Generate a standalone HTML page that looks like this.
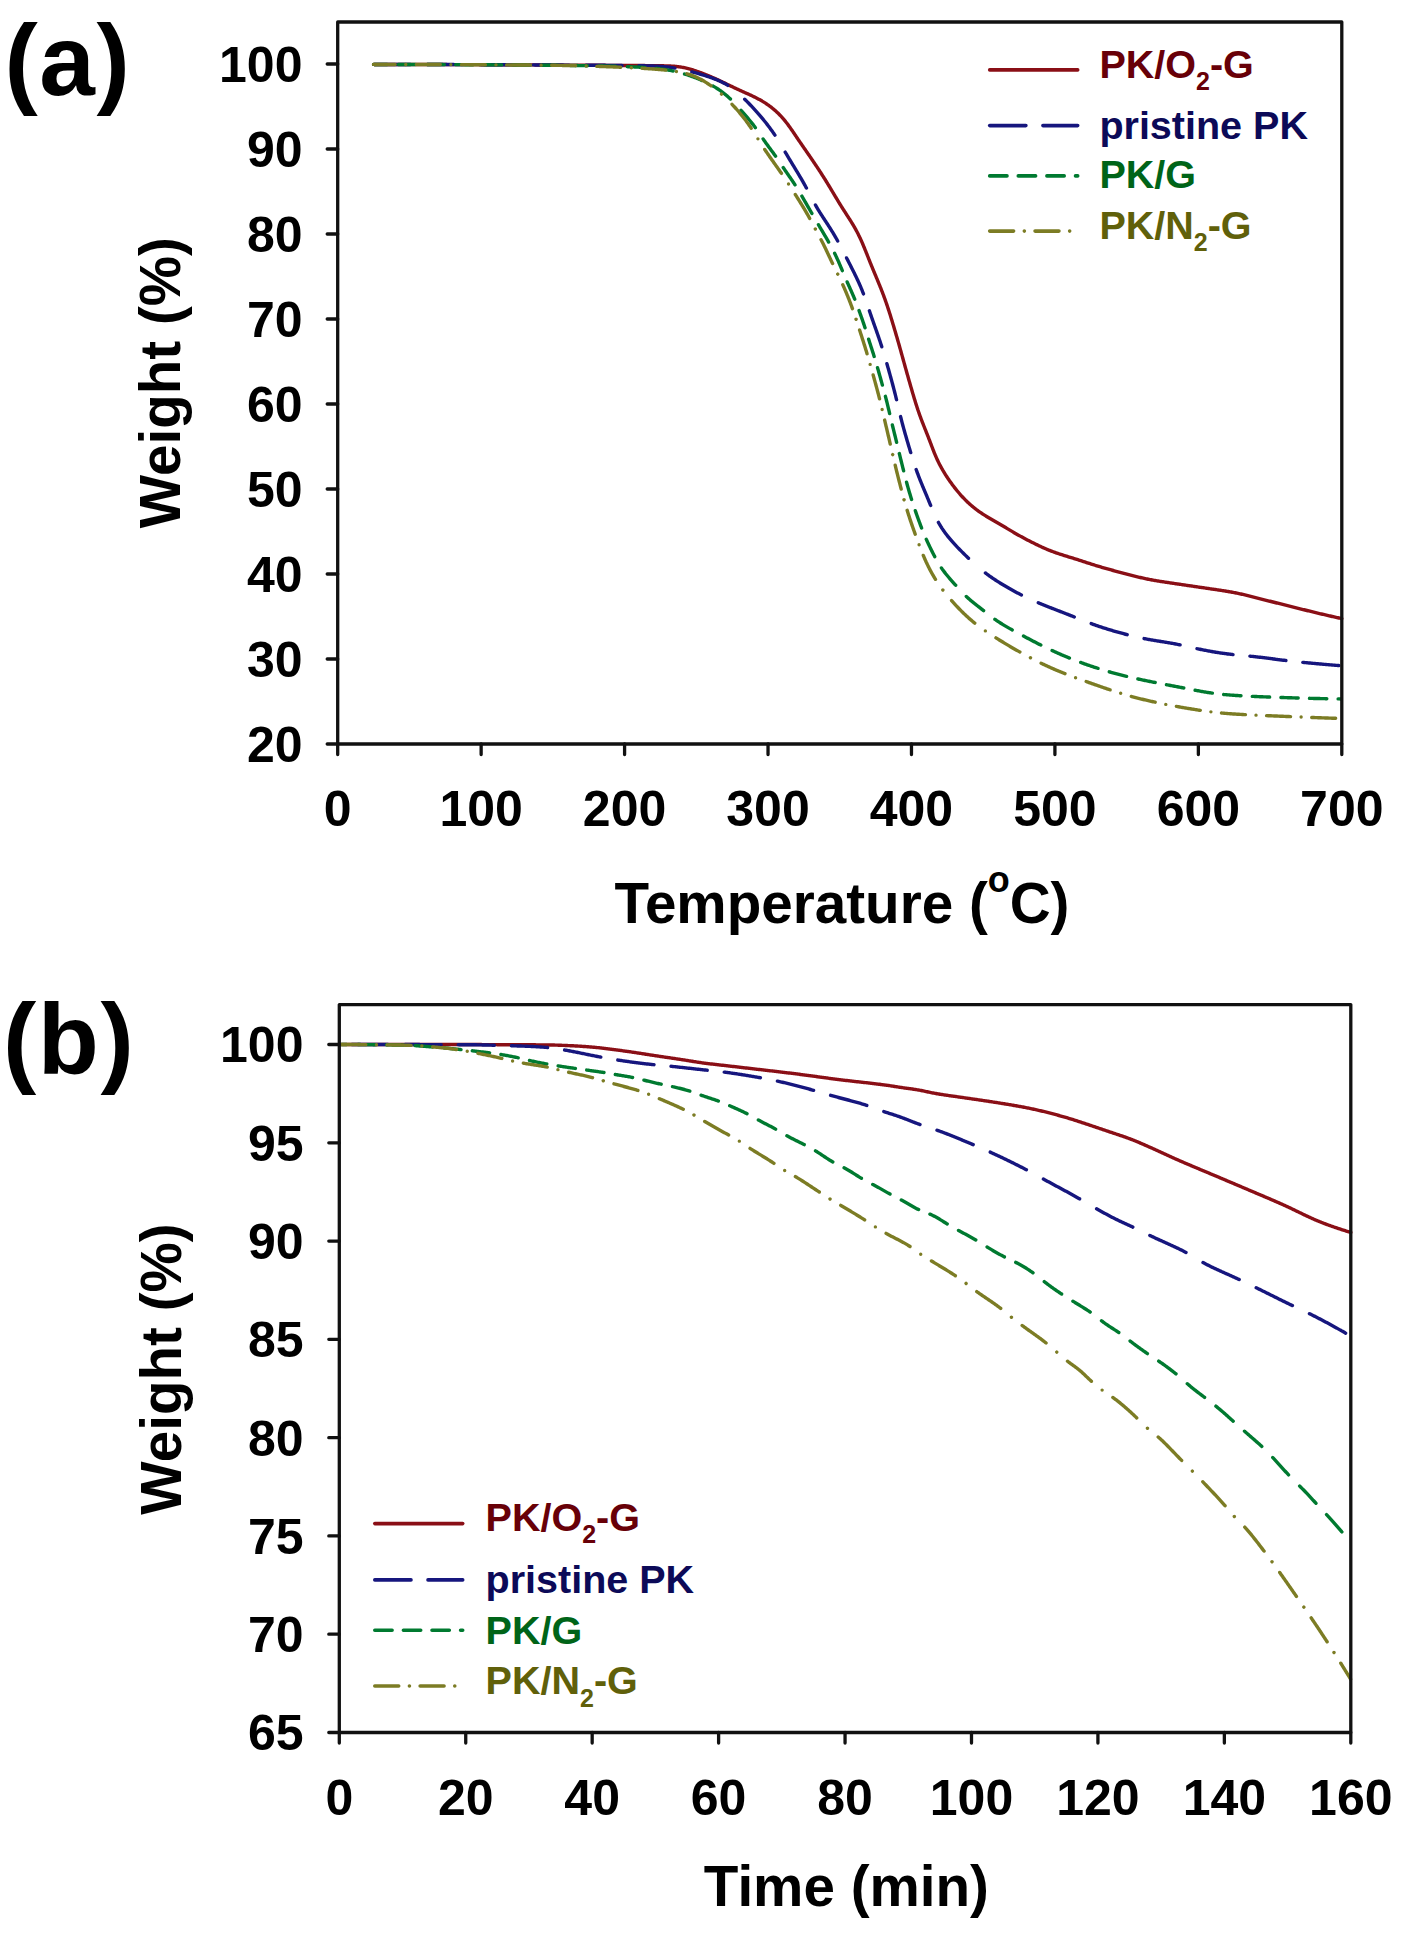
<!DOCTYPE html><html><head><meta charset="utf-8"><style>
html,body{margin:0;padding:0;background:#fff;width:1403px;height:1935px;overflow:hidden}
svg{display:block}
text{font-family:"Liberation Sans",sans-serif;font-weight:bold}
</style></head><body>
<svg width="1403" height="1935" viewBox="0 0 1403 1935">
<rect width="1403" height="1935" fill="#ffffff"/>
<path d="M373.56 64.42 L374.56 64.43 L375.56 64.43 L376.56 64.43 L377.56 64.43 L378.56 64.43 L379.56 64.43 L380.56 64.43 L381.56 64.43 L382.56 64.44 L383.56 64.44 L384.56 64.44 L385.56 64.44 L386.56 64.44 L387.56 64.44 L388.56 64.44 L389.56 64.45 L390.56 64.45 L391.56 64.45 L392.56 64.45 L393.56 64.45 L394.56 64.45 L395.56 64.46 L396.56 64.46 L397.56 64.46 L398.56 64.46 L399.56 64.46 L400.56 64.46 L401.56 64.47 L402.56 64.47 L403.56 64.47 L404.56 64.47 L405.56 64.47 L406.56 64.48 L407.56 64.48 L408.56 64.48 L409.56 64.48 L410.56 64.48 L411.56 64.49 L412.56 64.49 L413.56 64.49 L414.56 64.49 L415.56 64.49 L416.56 64.50 L417.56 64.50 L418.56 64.50 L419.56 64.50 L420.56 64.51 L421.56 64.51 L422.56 64.51 L423.56 64.51 L424.56 64.52 L425.56 64.52 L426.56 64.52 L427.56 64.52 L428.56 64.53 L429.56 64.53 L430.56 64.53 L431.56 64.53 L432.56 64.54 L433.56 64.54 L434.56 64.54 L435.56 64.54 L436.56 64.55 L437.56 64.55 L438.56 64.55 L439.56 64.55 L440.56 64.56 L441.56 64.56 L442.56 64.56 L443.56 64.57 L444.56 64.57 L445.56 64.57 L446.56 64.57 L447.56 64.58 L448.56 64.58 L449.56 64.58 L450.56 64.59 L451.56 64.59 L452.56 64.59 L453.56 64.59 L454.56 64.60 L455.56 64.60 L456.56 64.60 L457.56 64.61 L458.56 64.61 L459.56 64.61 L460.56 64.62 L461.56 64.62 L462.56 64.62 L463.56 64.62 L464.56 64.63 L465.56 64.63 L466.56 64.63 L467.56 64.64 L468.56 64.64 L469.56 64.64 L470.56 64.65 L471.56 64.65 L472.56 64.65 L473.56 64.66 L474.56 64.66 L475.56 64.66 L476.56 64.67 L477.56 64.67 L478.56 64.67 L479.56 64.68 L480.56 64.68 L481.56 64.68 L482.56 64.69 L483.56 64.69 L484.56 64.69 L485.56 64.70 L486.56 64.70 L487.56 64.70 L488.56 64.71 L489.56 64.71 L490.56 64.72 L491.56 64.72 L492.56 64.72 L493.56 64.73 L494.56 64.73 L495.56 64.74 L496.56 64.74 L497.56 64.74 L498.56 64.75 L499.56 64.75 L500.56 64.76 L501.56 64.76 L502.56 64.77 L503.56 64.77 L504.56 64.77 L505.56 64.78 L506.56 64.78 L507.56 64.79 L508.56 64.79 L509.56 64.80 L510.56 64.80 L511.56 64.81 L512.56 64.81 L513.56 64.82 L514.56 64.82 L515.56 64.83 L516.56 64.83 L517.56 64.84 L518.56 64.84 L519.56 64.85 L520.56 64.85 L521.56 64.86 L522.56 64.86 L523.56 64.87 L524.56 64.87 L525.56 64.88 L526.56 64.88 L527.56 64.89 L528.56 64.89 L529.56 64.90 L530.56 64.90 L531.56 64.91 L532.56 64.91 L533.56 64.92 L534.56 64.92 L535.56 64.93 L536.56 64.93 L537.56 64.94 L538.56 64.94 L539.56 64.95 L540.56 64.95 L541.56 64.96 L542.56 64.97 L543.56 64.97 L544.56 64.98 L545.56 64.98 L546.56 64.99 L547.56 64.99 L548.56 65.00 L549.56 65.00 L550.56 65.01 L551.56 65.01 L552.56 65.02 L553.56 65.02 L554.56 65.03 L555.56 65.03 L556.56 65.04 L557.56 65.05 L558.56 65.05 L559.56 65.06 L560.56 65.06 L561.56 65.07 L562.56 65.07 L563.56 65.08 L564.56 65.08 L565.56 65.09 L566.56 65.09 L567.56 65.10 L568.56 65.11 L569.56 65.11 L570.56 65.12 L571.56 65.12 L572.56 65.13 L573.56 65.13 L574.56 65.14 L575.56 65.15 L576.56 65.15 L577.56 65.16 L578.56 65.16 L579.56 65.17 L580.56 65.17 L581.56 65.18 L582.56 65.19 L583.56 65.19 L584.56 65.20 L585.56 65.20 L586.56 65.21 L587.56 65.21 L588.56 65.22 L589.56 65.23 L590.56 65.23 L591.56 65.24 L592.56 65.24 L593.56 65.25 L594.56 65.26 L595.56 65.26 L596.56 65.27 L597.56 65.27 L598.56 65.28 L599.56 65.29 L600.56 65.29 L601.56 65.30 L602.56 65.31 L603.56 65.31 L604.56 65.32 L605.56 65.32 L606.56 65.33 L607.56 65.34 L608.56 65.34 L609.56 65.35 L610.56 65.36 L611.56 65.36 L612.56 65.37 L613.56 65.37 L614.56 65.38 L615.56 65.39 L616.56 65.39 L617.56 65.40 L618.56 65.41 L619.56 65.41 L620.56 65.42 L621.56 65.42 L622.56 65.43 L623.56 65.44 L624.56 65.44 L625.56 65.45 L626.56 65.46 L627.56 65.46 L628.56 65.47 L629.56 65.47 L630.56 65.48 L631.56 65.49 L632.56 65.49 L633.56 65.50 L634.56 65.50 L635.56 65.51 L636.56 65.52 L637.56 65.52 L638.56 65.53 L639.56 65.54 L640.56 65.54 L641.56 65.55 L642.56 65.56 L643.56 65.56 L644.56 65.57 L645.56 65.58 L646.56 65.59 L647.56 65.59 L648.56 65.60 L649.56 65.61 L650.56 65.62 L651.56 65.63 L652.56 65.64 L653.56 65.65 L654.56 65.66 L655.56 65.68 L656.56 65.69 L657.56 65.70 L658.56 65.72 L659.56 65.73 L660.56 65.75 L661.56 65.77 L662.55 65.79 L663.55 65.82 L664.55 65.84 L665.55 65.87 L666.55 65.90 L667.55 65.94 L668.55 65.97 L669.54 66.02 L670.54 66.07 L671.54 66.12 L672.53 66.18 L673.52 66.25 L674.52 66.32 L675.51 66.41 L676.50 66.50 L677.48 66.61 L678.47 66.72 L679.45 66.85 L680.43 66.99 L681.41 67.15 L682.39 67.31 L683.36 67.49 L684.34 67.68 L685.30 67.89 L686.27 68.11 L687.23 68.34 L688.19 68.59 L689.15 68.84 L690.11 69.11 L691.06 69.39 L692.01 69.68 L692.96 69.98 L693.91 70.28 L694.85 70.60 L695.80 70.92 L696.74 71.25 L697.68 71.58 L698.62 71.92 L699.55 72.26 L700.49 72.61 L701.43 72.96 L702.36 73.32 L703.29 73.68 L704.22 74.04 L705.15 74.41 L706.08 74.78 L707.01 75.15 L707.93 75.53 L708.86 75.91 L709.78 76.29 L710.70 76.68 L711.62 77.07 L712.54 77.46 L713.46 77.86 L714.37 78.26 L715.28 78.67 L716.20 79.08 L717.11 79.49 L718.01 79.90 L718.92 80.32 L719.83 80.74 L720.73 81.17 L721.64 81.60 L722.54 82.03 L723.44 82.46 L724.34 82.89 L725.24 83.33 L726.14 83.77 L727.04 84.21 L727.93 84.65 L728.83 85.08 L729.73 85.52 L730.63 85.96 L731.53 86.40 L732.43 86.83 L733.33 87.26 L734.23 87.70 L735.13 88.12 L736.04 88.55 L736.94 88.97 L737.85 89.39 L738.76 89.81 L739.66 90.23 L740.57 90.64 L741.48 91.05 L742.40 91.46 L743.31 91.87 L744.22 92.28 L745.13 92.69 L746.05 93.09 L746.96 93.50 L747.87 93.91 L748.78 94.32 L749.69 94.73 L750.60 95.15 L751.50 95.57 L752.40 95.99 L753.31 96.42 L754.20 96.86 L755.10 97.30 L755.99 97.75 L756.88 98.20 L757.76 98.67 L758.64 99.14 L759.51 99.61 L760.38 100.10 L761.25 100.59 L762.11 101.09 L762.96 101.61 L763.81 102.13 L764.65 102.65 L765.49 103.19 L766.32 103.74 L767.14 104.30 L767.96 104.86 L768.77 105.44 L769.58 106.02 L770.37 106.62 L771.16 107.22 L771.94 107.83 L772.72 108.46 L773.49 109.09 L774.24 109.73 L774.99 110.38 L775.74 111.04 L776.47 111.71 L777.20 112.39 L777.91 113.08 L778.62 113.78 L779.32 114.48 L780.02 115.20 L780.70 115.92 L781.38 116.65 L782.04 117.38 L782.70 118.13 L783.36 118.88 L784.00 119.64 L784.63 120.41 L785.26 121.18 L785.88 121.96 L786.50 122.74 L787.11 123.53 L787.71 124.33 L788.30 125.13 L788.89 125.93 L789.47 126.74 L790.05 127.55 L790.63 128.37 L791.20 129.19 L791.77 130.01 L792.33 130.83 L792.90 131.66 L793.46 132.48 L794.02 133.31 L794.58 134.14 L795.14 134.97 L795.70 135.80 L796.26 136.62 L796.82 137.45 L797.38 138.28 L797.94 139.11 L798.50 139.93 L799.07 140.76 L799.63 141.59 L800.19 142.41 L800.76 143.23 L801.33 144.06 L801.89 144.88 L802.46 145.71 L803.03 146.53 L803.60 147.35 L804.17 148.17 L804.74 149.00 L805.31 149.82 L805.87 150.64 L806.44 151.46 L807.01 152.28 L807.58 153.11 L808.15 153.93 L808.71 154.76 L809.28 155.58 L809.85 156.40 L810.41 157.23 L810.98 158.05 L811.54 158.88 L812.10 159.71 L812.66 160.53 L813.22 161.36 L813.78 162.19 L814.34 163.02 L814.90 163.85 L815.46 164.68 L816.01 165.51 L816.57 166.34 L817.12 167.17 L817.68 168.01 L818.23 168.84 L818.78 169.68 L819.32 170.51 L819.87 171.35 L820.42 172.19 L820.96 173.03 L821.50 173.87 L822.04 174.71 L822.58 175.55 L823.12 176.40 L823.65 177.24 L824.18 178.09 L824.71 178.94 L825.24 179.78 L825.77 180.63 L826.30 181.48 L826.82 182.34 L827.34 183.19 L827.86 184.04 L828.38 184.90 L828.90 185.75 L829.42 186.61 L829.93 187.46 L830.45 188.32 L830.96 189.18 L831.48 190.04 L831.99 190.89 L832.50 191.75 L833.01 192.61 L833.52 193.47 L834.04 194.33 L834.55 195.19 L835.06 196.05 L835.57 196.91 L836.09 197.76 L836.60 198.62 L837.12 199.48 L837.64 200.33 L838.16 201.19 L838.68 202.04 L839.20 202.89 L839.72 203.74 L840.25 204.59 L840.78 205.44 L841.31 206.29 L841.84 207.14 L842.37 207.98 L842.91 208.83 L843.44 209.67 L843.98 210.51 L844.52 211.36 L845.06 212.20 L845.60 213.04 L846.14 213.88 L846.69 214.72 L847.23 215.56 L847.77 216.40 L848.31 217.24 L848.85 218.08 L849.39 218.92 L849.92 219.76 L850.46 220.61 L850.99 221.46 L851.51 222.30 L852.04 223.16 L852.56 224.01 L853.07 224.86 L853.58 225.72 L854.09 226.58 L854.58 227.45 L855.08 228.32 L855.57 229.19 L856.05 230.06 L856.52 230.94 L856.99 231.82 L857.45 232.70 L857.91 233.59 L858.36 234.48 L858.80 235.38 L859.24 236.27 L859.67 237.17 L860.10 238.08 L860.52 238.98 L860.93 239.89 L861.34 240.80 L861.75 241.71 L862.14 242.63 L862.54 243.55 L862.93 244.47 L863.32 245.39 L863.70 246.31 L864.08 247.23 L864.46 248.16 L864.84 249.08 L865.21 250.01 L865.59 250.94 L865.96 251.87 L866.33 252.80 L866.70 253.72 L867.07 254.65 L867.44 255.58 L867.80 256.51 L868.17 257.44 L868.54 258.37 L868.91 259.30 L869.28 260.23 L869.65 261.16 L870.03 262.08 L870.40 263.01 L870.77 263.94 L871.15 264.87 L871.53 265.79 L871.91 266.72 L872.28 267.64 L872.66 268.57 L873.05 269.49 L873.43 270.42 L873.81 271.34 L874.20 272.26 L874.58 273.19 L874.96 274.11 L875.35 275.03 L875.74 275.95 L876.12 276.88 L876.51 277.80 L876.89 278.72 L877.27 279.65 L877.66 280.57 L878.04 281.49 L878.42 282.42 L878.80 283.34 L879.18 284.27 L879.56 285.19 L879.93 286.12 L880.30 287.05 L880.68 287.98 L881.04 288.91 L881.41 289.84 L881.78 290.77 L882.14 291.70 L882.50 292.63 L882.85 293.57 L883.21 294.50 L883.56 295.44 L883.90 296.37 L884.25 297.31 L884.59 298.25 L884.93 299.19 L885.27 300.13 L885.60 301.08 L885.93 302.02 L886.26 302.96 L886.59 303.91 L886.91 304.85 L887.23 305.80 L887.55 306.75 L887.86 307.70 L888.18 308.65 L888.49 309.60 L888.79 310.55 L889.10 311.50 L889.41 312.45 L889.71 313.41 L890.01 314.36 L890.31 315.31 L890.61 316.27 L890.90 317.22 L891.20 318.18 L891.49 319.13 L891.78 320.09 L892.07 321.05 L892.37 322.00 L892.65 322.96 L892.94 323.92 L893.23 324.88 L893.52 325.83 L893.80 326.79 L894.09 327.75 L894.37 328.71 L894.66 329.67 L894.94 330.63 L895.22 331.59 L895.50 332.55 L895.79 333.51 L896.07 334.46 L896.35 335.42 L896.63 336.38 L896.91 337.34 L897.19 338.31 L897.46 339.27 L897.74 340.23 L898.02 341.19 L898.29 342.15 L898.57 343.11 L898.84 344.07 L899.12 345.03 L899.39 346.00 L899.66 346.96 L899.94 347.92 L900.21 348.88 L900.48 349.84 L900.75 350.81 L901.02 351.77 L901.28 352.73 L901.55 353.70 L901.82 354.66 L902.09 355.62 L902.36 356.59 L902.62 357.55 L902.89 358.52 L903.16 359.48 L903.42 360.44 L903.69 361.41 L903.96 362.37 L904.22 363.33 L904.49 364.30 L904.76 365.26 L905.03 366.22 L905.29 367.19 L905.56 368.15 L905.83 369.11 L906.10 370.08 L906.37 371.04 L906.64 372.00 L906.91 372.97 L907.18 373.93 L907.45 374.89 L907.73 375.85 L908.00 376.81 L908.27 377.78 L908.55 378.74 L908.82 379.70 L909.10 380.66 L909.37 381.62 L909.65 382.58 L909.92 383.55 L910.20 384.51 L910.48 385.47 L910.75 386.43 L911.03 387.39 L911.31 388.35 L911.59 389.31 L911.87 390.27 L912.15 391.23 L912.43 392.19 L912.71 393.15 L912.99 394.11 L913.28 395.07 L913.56 396.03 L913.85 396.98 L914.14 397.94 L914.42 398.90 L914.72 399.85 L915.01 400.81 L915.30 401.77 L915.60 402.72 L915.90 403.67 L916.20 404.63 L916.50 405.58 L916.81 406.53 L917.12 407.48 L917.43 408.43 L917.75 409.38 L918.06 410.33 L918.39 411.27 L918.71 412.22 L919.04 413.16 L919.37 414.11 L919.71 415.05 L920.04 415.99 L920.39 416.93 L920.73 417.87 L921.08 418.80 L921.43 419.74 L921.79 420.67 L922.14 421.61 L922.50 422.54 L922.87 423.47 L923.23 424.40 L923.60 425.33 L923.96 426.26 L924.33 427.19 L924.70 428.12 L925.07 429.05 L925.44 429.98 L925.82 430.90 L926.19 431.83 L926.56 432.76 L926.92 433.69 L927.29 434.62 L927.66 435.55 L928.02 436.48 L928.39 437.41 L928.75 438.34 L929.11 439.28 L929.47 440.21 L929.83 441.14 L930.18 442.08 L930.54 443.01 L930.89 443.95 L931.24 444.88 L931.60 445.82 L931.95 446.75 L932.31 447.68 L932.67 448.62 L933.02 449.55 L933.39 450.48 L933.75 451.41 L934.12 452.34 L934.49 453.26 L934.87 454.19 L935.26 455.11 L935.64 456.03 L936.04 456.94 L936.44 457.86 L936.85 458.77 L937.27 459.67 L937.69 460.58 L938.12 461.48 L938.55 462.37 L939.00 463.26 L939.45 464.15 L939.91 465.04 L940.38 465.92 L940.85 466.80 L941.33 467.67 L941.82 468.54 L942.31 469.41 L942.81 470.27 L943.32 471.13 L943.83 471.99 L944.35 472.84 L944.87 473.69 L945.40 474.54 L945.94 475.38 L946.48 476.22 L947.03 477.05 L947.58 477.88 L948.14 478.71 L948.70 479.54 L949.27 480.36 L949.84 481.18 L950.42 481.99 L951.00 482.80 L951.59 483.61 L952.18 484.42 L952.77 485.22 L953.38 486.01 L953.98 486.81 L954.59 487.60 L955.21 488.38 L955.83 489.16 L956.45 489.94 L957.08 490.72 L957.72 491.49 L958.36 492.25 L959.01 493.01 L959.66 493.77 L960.31 494.52 L960.98 495.27 L961.64 496.01 L962.32 496.74 L963.00 497.47 L963.68 498.20 L964.37 498.92 L965.07 499.63 L965.77 500.34 L966.48 501.04 L967.19 501.73 L967.91 502.42 L968.64 503.10 L969.38 503.78 L970.12 504.44 L970.86 505.10 L971.62 505.75 L972.38 506.40 L973.14 507.03 L973.92 507.66 L974.69 508.28 L975.48 508.89 L976.27 509.50 L977.07 510.09 L977.87 510.68 L978.68 511.26 L979.50 511.83 L980.32 512.40 L981.14 512.96 L981.97 513.51 L982.81 514.06 L983.65 514.60 L984.49 515.13 L985.34 515.66 L986.19 516.18 L987.04 516.70 L987.89 517.22 L988.75 517.73 L989.61 518.24 L990.47 518.74 L991.34 519.25 L992.20 519.75 L993.06 520.25 L993.93 520.75 L994.80 521.25 L995.66 521.75 L996.53 522.25 L997.39 522.75 L998.26 523.25 L999.12 523.75 L999.99 524.26 L1000.85 524.76 L1001.71 525.27 L1002.57 525.77 L1003.43 526.28 L1004.29 526.79 L1005.15 527.30 L1006.01 527.81 L1006.87 528.33 L1007.73 528.84 L1008.59 529.35 L1009.44 529.87 L1010.30 530.38 L1011.16 530.89 L1012.02 531.40 L1012.88 531.91 L1013.74 532.41 L1014.61 532.92 L1015.47 533.42 L1016.34 533.92 L1017.20 534.42 L1018.07 534.91 L1018.94 535.40 L1019.81 535.89 L1020.69 536.38 L1021.56 536.86 L1022.44 537.34 L1023.32 537.81 L1024.20 538.28 L1025.08 538.75 L1025.97 539.21 L1026.85 539.68 L1027.74 540.14 L1028.63 540.59 L1029.52 541.05 L1030.41 541.50 L1031.30 541.95 L1032.20 542.40 L1033.09 542.85 L1033.99 543.29 L1034.88 543.73 L1035.78 544.17 L1036.68 544.61 L1037.58 545.05 L1038.48 545.48 L1039.38 545.91 L1040.28 546.33 L1041.19 546.75 L1042.10 547.17 L1043.01 547.58 L1043.92 547.99 L1044.83 548.40 L1045.75 548.79 L1046.67 549.19 L1047.59 549.57 L1048.51 549.95 L1049.43 550.33 L1050.36 550.70 L1051.29 551.06 L1052.22 551.42 L1053.16 551.77 L1054.10 552.11 L1055.03 552.45 L1055.98 552.78 L1056.92 553.11 L1057.86 553.44 L1058.81 553.76 L1059.76 554.07 L1060.71 554.38 L1061.66 554.69 L1062.61 554.99 L1063.56 555.29 L1064.52 555.59 L1065.47 555.89 L1066.43 556.18 L1067.38 556.48 L1068.34 556.77 L1069.29 557.06 L1070.25 557.36 L1071.20 557.65 L1072.16 557.94 L1073.11 558.24 L1074.07 558.54 L1075.02 558.83 L1075.98 559.13 L1076.93 559.43 L1077.88 559.74 L1078.84 560.04 L1079.79 560.34 L1080.74 560.65 L1081.69 560.96 L1082.64 561.27 L1083.59 561.58 L1084.54 561.89 L1085.49 562.20 L1086.44 562.51 L1087.39 562.82 L1088.35 563.13 L1089.30 563.43 L1090.25 563.74 L1091.20 564.05 L1092.15 564.35 L1093.11 564.65 L1094.06 564.95 L1095.01 565.25 L1095.97 565.54 L1096.92 565.84 L1097.88 566.13 L1098.84 566.42 L1099.80 566.70 L1100.75 566.99 L1101.71 567.27 L1102.67 567.55 L1103.63 567.82 L1104.60 568.10 L1105.56 568.37 L1106.52 568.64 L1107.48 568.91 L1108.45 569.18 L1109.41 569.45 L1110.37 569.72 L1111.34 569.98 L1112.30 570.25 L1113.27 570.51 L1114.23 570.77 L1115.20 571.03 L1116.16 571.29 L1117.13 571.55 L1118.09 571.81 L1119.06 572.07 L1120.03 572.33 L1120.99 572.58 L1121.96 572.84 L1122.92 573.10 L1123.89 573.35 L1124.86 573.61 L1125.83 573.86 L1126.79 574.12 L1127.76 574.37 L1128.73 574.62 L1129.70 574.87 L1130.66 575.12 L1131.63 575.37 L1132.60 575.62 L1133.57 575.86 L1134.54 576.10 L1135.51 576.35 L1136.48 576.58 L1137.45 576.82 L1138.42 577.05 L1139.40 577.28 L1140.37 577.51 L1141.34 577.74 L1142.32 577.96 L1143.29 578.17 L1144.27 578.39 L1145.25 578.60 L1146.23 578.80 L1147.20 579.01 L1148.18 579.21 L1149.16 579.40 L1150.14 579.59 L1151.13 579.78 L1152.11 579.96 L1153.09 580.15 L1154.08 580.32 L1155.06 580.50 L1156.04 580.67 L1157.03 580.84 L1158.02 581.00 L1159.00 581.16 L1159.99 581.32 L1160.98 581.48 L1161.96 581.64 L1162.95 581.79 L1163.94 581.94 L1164.93 582.09 L1165.92 582.24 L1166.91 582.39 L1167.89 582.54 L1168.88 582.69 L1169.87 582.83 L1170.86 582.98 L1171.85 583.12 L1172.84 583.27 L1173.83 583.42 L1174.82 583.56 L1175.81 583.71 L1176.80 583.85 L1177.79 584.00 L1178.78 584.14 L1179.77 584.29 L1180.76 584.43 L1181.75 584.58 L1182.73 584.72 L1183.72 584.87 L1184.71 585.02 L1185.70 585.16 L1186.69 585.31 L1187.68 585.46 L1188.67 585.60 L1189.66 585.75 L1190.65 585.90 L1191.64 586.04 L1192.63 586.19 L1193.62 586.34 L1194.60 586.48 L1195.59 586.63 L1196.58 586.78 L1197.57 586.92 L1198.56 587.07 L1199.55 587.21 L1200.54 587.36 L1201.53 587.51 L1202.52 587.65 L1203.51 587.80 L1204.50 587.94 L1205.49 588.09 L1206.48 588.23 L1207.47 588.38 L1208.46 588.52 L1209.44 588.67 L1210.43 588.81 L1211.42 588.96 L1212.41 589.10 L1213.40 589.24 L1214.39 589.39 L1215.38 589.53 L1216.37 589.68 L1217.36 589.83 L1218.35 589.97 L1219.34 590.12 L1220.33 590.27 L1221.31 590.42 L1222.30 590.58 L1223.29 590.73 L1224.28 590.89 L1225.27 591.04 L1226.25 591.20 L1227.24 591.37 L1228.22 591.53 L1229.21 591.70 L1230.19 591.88 L1231.18 592.05 L1232.16 592.23 L1233.14 592.41 L1234.12 592.60 L1235.11 592.79 L1236.09 592.98 L1237.07 593.18 L1238.04 593.38 L1239.02 593.59 L1240.00 593.80 L1240.98 594.01 L1241.95 594.23 L1242.93 594.45 L1243.90 594.68 L1244.87 594.90 L1245.84 595.14 L1246.82 595.37 L1247.79 595.61 L1248.76 595.84 L1249.73 596.09 L1250.70 596.33 L1251.67 596.57 L1252.64 596.82 L1253.61 597.06 L1254.58 597.31 L1255.54 597.56 L1256.51 597.81 L1257.48 598.06 L1258.45 598.31 L1259.42 598.56 L1260.39 598.80 L1261.35 599.05 L1262.32 599.30 L1263.29 599.55 L1264.26 599.80 L1265.23 600.04 L1266.20 600.29 L1267.17 600.54 L1268.14 600.78 L1269.11 601.03 L1270.08 601.27 L1271.05 601.52 L1272.02 601.76 L1272.99 602.01 L1273.96 602.25 L1274.93 602.49 L1275.89 602.74 L1276.86 602.98 L1277.83 603.22 L1278.80 603.47 L1279.77 603.71 L1280.74 603.95 L1281.71 604.20 L1282.68 604.44 L1283.65 604.68 L1284.63 604.93 L1285.60 605.17 L1286.57 605.41 L1287.54 605.65 L1288.51 605.90 L1289.48 606.14 L1290.45 606.38 L1291.42 606.62 L1292.39 606.87 L1293.36 607.11 L1294.33 607.35 L1295.30 607.59 L1296.27 607.84 L1297.24 608.08 L1298.21 608.32 L1299.18 608.56 L1300.15 608.80 L1301.12 609.05 L1302.09 609.29 L1303.06 609.53 L1304.03 609.77 L1305.00 610.01 L1305.97 610.25 L1306.94 610.49 L1307.91 610.73 L1308.88 610.97 L1309.85 611.21 L1310.83 611.45 L1311.80 611.68 L1312.77 611.92 L1313.74 612.16 L1314.71 612.39 L1315.68 612.62 L1316.66 612.86 L1317.63 613.09 L1318.60 613.32 L1319.57 613.55 L1320.55 613.78 L1321.52 614.01 L1322.49 614.24 L1323.46 614.47 L1324.43 614.70 L1325.40 614.92 L1326.38 615.15 L1327.35 615.37 L1328.32 615.59 L1329.28 615.81 L1330.25 616.03 L1331.22 616.25 L1332.19 616.47 L1333.15 616.69 L1334.12 616.91 L1335.08 617.13 L1336.04 617.34 L1337.00 617.56 L1337.96 617.77 L1338.92 617.98 L1339.88 618.20 L1340.84 618.41 L1341.80 618.62" fill="none" stroke="#8a0f16" stroke-width="3.4" stroke-linecap="round" stroke-linejoin="round"/>
<path d="M374.39 64.43 L374.56 64.43 L375.56 64.43 L376.56 64.43 L377.56 64.43 L378.56 64.43 L379.56 64.43 L380.56 64.43 L381.56 64.43 L382.56 64.43 L383.56 64.43 L384.56 64.43 L385.56 64.43 L386.56 64.43 L387.56 64.43 L388.56 64.43 L389.56 64.43 L390.56 64.43 L391.56 64.44 L392.56 64.44 L393.56 64.44 L394.56 64.44 L395.56 64.44 L396.56 64.44 L397.56 64.44 L398.56 64.44 L399.56 64.44 L400.56 64.45 L401.56 64.45 L402.56 64.45 L403.56 64.45 L404.56 64.45 L405.56 64.45 L406.56 64.45 L407.56 64.46 L408.56 64.46 L409.56 64.46 L410.39 64.46 M427.29 64.50 L427.56 64.50 L428.56 64.50 L429.56 64.50 L430.56 64.50 L431.56 64.51 L432.56 64.51 L433.56 64.51 L434.56 64.51 L435.56 64.52 L436.56 64.52 L437.56 64.52 L438.56 64.53 L439.56 64.53 L440.56 64.53 L441.56 64.53 L442.56 64.54 L443.56 64.54 L444.56 64.54 L445.56 64.55 L446.56 64.55 L447.56 64.55 L448.56 64.56 L449.56 64.56 L450.56 64.56 L451.56 64.57 L452.56 64.57 L453.56 64.57 L454.56 64.58 L455.56 64.58 L456.56 64.58 L457.56 64.59 L458.56 64.59 L459.56 64.59 L460.56 64.60 L461.56 64.60 L462.56 64.60 L463.29 64.61 M480.19 64.67 L480.56 64.67 L481.56 64.68 L482.56 64.68 L483.56 64.69 L484.56 64.69 L485.56 64.69 L486.56 64.70 L487.56 64.70 L488.56 64.71 L489.56 64.71 L490.56 64.72 L491.56 64.72 L492.56 64.73 L493.56 64.73 L494.56 64.73 L495.56 64.74 L496.56 64.74 L497.56 64.75 L498.56 64.75 L499.56 64.76 L500.56 64.76 L501.56 64.77 L502.56 64.77 L503.56 64.77 L504.56 64.78 L505.56 64.78 L506.56 64.79 L507.56 64.79 L508.56 64.80 L509.56 64.80 L510.56 64.81 L511.56 64.81 L512.56 64.82 L513.56 64.82 L514.56 64.83 L515.56 64.83 L516.19 64.83 M533.09 64.92 L533.56 64.92 L534.56 64.93 L535.56 64.93 L536.56 64.94 L537.56 64.94 L538.56 64.95 L539.56 64.95 L540.56 64.96 L541.56 64.96 L542.56 64.97 L543.56 64.97 L544.56 64.98 L545.56 64.98 L546.56 64.99 L547.56 64.99 L548.56 65.00 L549.56 65.00 L550.56 65.01 L551.56 65.01 L552.56 65.02 L553.56 65.02 L554.56 65.03 L555.56 65.03 L556.56 65.04 L557.56 65.04 L558.56 65.05 L559.56 65.05 L560.56 65.06 L561.56 65.06 L562.56 65.07 L563.56 65.07 L564.56 65.08 L565.56 65.08 L566.56 65.09 L567.56 65.09 L568.56 65.10 L569.09 65.10 M585.99 65.19 L586.56 65.20 L587.56 65.20 L588.56 65.21 L589.56 65.21 L590.56 65.22 L591.56 65.23 L592.56 65.23 L593.56 65.24 L594.56 65.25 L595.56 65.25 L596.56 65.26 L597.56 65.27 L598.56 65.27 L599.56 65.28 L600.56 65.29 L601.56 65.30 L602.56 65.30 L603.56 65.31 L604.56 65.32 L605.56 65.33 L606.56 65.34 L607.56 65.35 L608.56 65.35 L609.56 65.36 L610.56 65.37 L611.56 65.38 L612.56 65.39 L613.56 65.40 L614.56 65.41 L615.56 65.42 L616.56 65.43 L617.56 65.44 L618.56 65.45 L619.56 65.46 L620.56 65.47 L621.56 65.49 L621.99 65.49 M638.89 65.72 L639.56 65.73 L640.56 65.75 L641.56 65.77 L642.56 65.78 L643.56 65.80 L644.55 65.82 L645.55 65.84 L646.55 65.86 L647.55 65.89 L648.55 65.91 L649.55 65.93 L650.55 65.96 L651.55 65.99 L652.55 66.02 L653.55 66.06 L654.55 66.09 L655.55 66.13 L656.54 66.18 L657.54 66.23 L658.54 66.28 L659.53 66.34 L660.53 66.41 L661.53 66.48 L662.52 66.56 L663.51 66.64 L664.51 66.73 L665.50 66.83 L666.49 66.94 L667.48 67.05 L668.47 67.17 L669.46 67.30 L670.45 67.44 L671.44 67.58 L672.42 67.74 L673.41 67.90 L674.39 68.06 L674.89 68.15 M691.79 71.89 L691.95 71.93 L692.92 72.18 L693.88 72.43 L694.85 72.68 L695.82 72.94 L696.78 73.20 L697.75 73.46 L698.71 73.73 L699.67 74.00 L700.63 74.27 L701.59 74.55 L702.55 74.84 L703.50 75.13 L704.46 75.42 L705.41 75.72 L706.36 76.02 L707.31 76.33 L708.26 76.65 L709.20 76.97 L710.15 77.30 L711.09 77.63 L712.02 77.97 L712.96 78.32 L713.89 78.68 L714.82 79.04 L715.74 79.41 L716.67 79.79 L717.58 80.18 L718.50 80.57 L719.41 80.98 L720.31 81.39 L721.21 81.81 L722.11 82.25 L722.99 82.69 L723.88 83.15 L724.75 83.61 L725.62 84.09 L726.48 84.58 L727.34 85.08 L727.79 85.35 M744.69 99.19 L745.00 99.50 L745.71 100.20 L746.41 100.91 L747.11 101.62 L747.81 102.34 L748.51 103.06 L749.20 103.77 L749.89 104.50 L750.58 105.22 L751.27 105.95 L751.95 106.67 L752.64 107.40 L753.32 108.14 L753.99 108.87 L754.67 109.61 L755.34 110.35 L756.01 111.09 L756.68 111.84 L757.34 112.58 L758.00 113.33 L758.66 114.08 L759.31 114.84 L759.97 115.60 L760.61 116.36 L761.26 117.12 L761.90 117.89 L762.54 118.65 L763.18 119.42 L763.81 120.20 L764.44 120.97 L765.07 121.75 L765.69 122.53 L766.31 123.32 L766.92 124.11 L767.53 124.90 L768.14 125.69 L768.74 126.48 L769.34 127.28 L769.94 128.09 L770.53 128.89 L771.12 129.70 L771.70 130.51 L772.28 131.32 L772.85 132.14 L773.42 132.96 L773.99 133.79 L774.55 134.61 L774.93 135.19 M785.21 152.09 L785.47 152.52 L785.98 153.38 L786.49 154.24 L786.99 155.10 L787.51 155.96 L788.02 156.82 L788.53 157.68 L789.04 158.54 L789.56 159.40 L790.08 160.25 L790.59 161.11 L791.11 161.96 L791.63 162.82 L792.15 163.67 L792.67 164.53 L793.19 165.38 L793.71 166.23 L794.23 167.09 L794.75 167.94 L795.27 168.80 L795.79 169.65 L796.31 170.51 L796.83 171.36 L797.34 172.22 L797.86 173.07 L798.37 173.93 L798.89 174.79 L799.40 175.65 L799.91 176.51 L800.41 177.37 L800.92 178.23 L801.42 179.10 L801.92 179.96 L802.42 180.83 L802.92 181.70 L803.41 182.57 L803.90 183.44 L804.39 184.31 L804.87 185.18 L805.35 186.06 L805.83 186.94 L806.31 187.82 L806.45 188.09 M815.45 204.99 L815.71 205.45 L816.20 206.32 L816.70 207.18 L817.21 208.04 L817.72 208.90 L818.23 209.76 L818.75 210.61 L819.27 211.46 L819.80 212.31 L820.33 213.16 L820.87 214.00 L821.40 214.84 L821.94 215.68 L822.49 216.52 L823.03 217.36 L823.58 218.19 L824.13 219.03 L824.68 219.86 L825.23 220.70 L825.78 221.53 L826.33 222.37 L826.88 223.20 L827.42 224.04 L827.97 224.88 L828.51 225.72 L829.06 226.56 L829.59 227.40 L830.13 228.24 L830.66 229.09 L831.19 229.93 L831.72 230.78 L832.24 231.63 L832.76 232.49 L833.28 233.34 L833.79 234.20 L834.30 235.06 L834.81 235.92 L835.31 236.79 L835.80 237.65 L836.30 238.52 L836.79 239.39 L837.28 240.27 L837.67 240.99 M846.56 257.89 L846.59 257.96 L847.05 258.85 L847.51 259.74 L847.96 260.63 L848.42 261.52 L848.87 262.41 L849.33 263.30 L849.78 264.19 L850.24 265.08 L850.69 265.97 L851.14 266.86 L851.59 267.75 L852.05 268.65 L852.50 269.54 L852.94 270.43 L853.39 271.33 L853.84 272.22 L854.28 273.12 L854.72 274.01 L855.16 274.91 L855.60 275.81 L856.04 276.71 L856.47 277.61 L856.90 278.51 L857.32 279.42 L857.75 280.32 L858.16 281.23 L858.58 282.14 L858.99 283.05 L859.40 283.96 L859.80 284.88 L860.20 285.79 L860.59 286.71 L860.98 287.63 L861.37 288.55 L861.75 289.48 L862.12 290.40 L862.49 291.33 L862.86 292.26 L863.22 293.19 L863.49 293.89 M869.39 310.79 L869.50 311.11 L869.82 312.06 L870.15 313.00 L870.47 313.95 L870.80 314.89 L871.12 315.84 L871.45 316.78 L871.78 317.73 L872.10 318.67 L872.43 319.62 L872.76 320.56 L873.10 321.50 L873.43 322.45 L873.76 323.39 L874.09 324.33 L874.43 325.28 L874.76 326.22 L875.10 327.16 L875.43 328.10 L875.76 329.05 L876.10 329.99 L876.43 330.93 L876.76 331.88 L877.09 332.82 L877.42 333.76 L877.75 334.71 L878.08 335.65 L878.40 336.60 L878.73 337.54 L879.05 338.49 L879.37 339.44 L879.69 340.38 L880.01 341.33 L880.32 342.28 L880.64 343.23 L880.95 344.18 L881.26 345.13 L881.56 346.08 L881.79 346.79 M886.88 363.69 L887.05 364.27 L887.33 365.23 L887.60 366.19 L887.88 367.15 L888.15 368.12 L888.42 369.08 L888.69 370.04 L888.96 371.00 L889.23 371.97 L889.50 372.93 L889.77 373.89 L890.04 374.86 L890.30 375.82 L890.57 376.78 L890.84 377.75 L891.10 378.71 L891.36 379.68 L891.63 380.64 L891.89 381.61 L892.15 382.57 L892.41 383.54 L892.66 384.50 L892.92 385.47 L893.18 386.44 L893.43 387.40 L893.68 388.37 L893.94 389.34 L894.19 390.31 L894.44 391.28 L894.68 392.24 L894.93 393.21 L895.17 394.18 L895.42 395.15 L895.66 396.12 L895.90 397.09 L896.14 398.07 L896.37 399.04 L896.53 399.69 M900.57 416.59 L900.80 417.51 L901.04 418.48 L901.28 419.45 L901.53 420.42 L901.78 421.39 L902.03 422.35 L902.29 423.32 L902.54 424.29 L902.80 425.25 L903.06 426.22 L903.32 427.18 L903.59 428.15 L903.85 429.11 L904.12 430.08 L904.39 431.04 L904.66 432.00 L904.93 432.96 L905.21 433.93 L905.48 434.89 L905.76 435.85 L906.04 436.81 L906.32 437.77 L906.60 438.73 L906.88 439.69 L907.16 440.65 L907.44 441.61 L907.73 442.56 L908.01 443.52 L908.29 444.48 L908.58 445.44 L908.87 446.40 L909.15 447.36 L909.44 448.31 L909.73 449.27 L910.02 450.23 L910.30 451.19 L910.59 452.14 L910.73 452.59 M916.16 469.49 L916.42 470.22 L916.75 471.16 L917.09 472.10 L917.44 473.04 L917.78 473.98 L918.14 474.91 L918.49 475.85 L918.85 476.78 L919.21 477.71 L919.57 478.64 L919.94 479.57 L920.31 480.50 L920.68 481.43 L921.06 482.35 L921.44 483.28 L921.82 484.20 L922.20 485.13 L922.58 486.05 L922.97 486.98 L923.35 487.90 L923.74 488.82 L924.13 489.74 L924.51 490.66 L924.90 491.58 L925.29 492.51 L925.68 493.43 L926.06 494.35 L926.45 495.27 L926.83 496.20 L927.22 497.12 L927.60 498.04 L927.98 498.97 L928.37 499.89 L928.75 500.81 L929.13 501.74 L929.51 502.66 L929.88 503.59 L930.26 504.51 L930.64 505.44 L930.66 505.49 M938.42 522.39 L938.56 522.64 L939.05 523.50 L939.55 524.36 L940.06 525.22 L940.58 526.07 L941.10 526.91 L941.64 527.75 L942.18 528.59 L942.74 529.41 L943.30 530.24 L943.87 531.05 L944.45 531.87 L945.03 532.67 L945.62 533.47 L946.22 534.27 L946.83 535.06 L947.44 535.85 L948.06 536.63 L948.69 537.40 L949.32 538.17 L949.96 538.94 L950.61 539.70 L951.26 540.46 L951.91 541.21 L952.57 541.96 L953.24 542.71 L953.91 543.45 L954.58 544.18 L955.26 544.92 L955.94 545.65 L956.62 546.37 L957.31 547.10 L958.01 547.82 L958.70 548.54 L959.40 549.25 L960.10 549.97 L960.80 550.68 L961.50 551.39 L962.21 552.09 L962.92 552.80 L963.63 553.50 L964.34 554.21 L965.05 554.91 L965.76 555.61 L966.48 556.31 L967.20 557.00 L967.91 557.70 L968.50 558.26 M985.40 572.95 L986.00 573.41 L986.80 574.00 L987.60 574.60 L988.41 575.18 L989.22 575.77 L990.03 576.34 L990.85 576.92 L991.67 577.49 L992.50 578.05 L993.32 578.61 L994.15 579.17 L994.98 579.72 L995.82 580.27 L996.66 580.82 L997.50 581.36 L998.34 581.90 L999.18 582.43 L1000.03 582.96 L1000.88 583.49 L1001.73 584.01 L1002.58 584.53 L1003.44 585.05 L1004.30 585.56 L1005.16 586.07 L1006.02 586.58 L1006.88 587.08 L1007.75 587.58 L1008.61 588.08 L1009.48 588.57 L1010.35 589.06 L1011.23 589.55 L1012.10 590.03 L1012.98 590.52 L1013.85 591.00 L1014.73 591.47 L1015.61 591.94 L1016.50 592.41 L1017.38 592.88 L1018.27 593.34 L1019.15 593.80 L1020.04 594.26 L1020.93 594.71 L1021.40 594.95 M1038.30 602.73 L1039.09 603.07 L1040.01 603.45 L1040.93 603.84 L1041.86 604.22 L1042.78 604.60 L1043.71 604.98 L1044.63 605.35 L1045.56 605.73 L1046.49 606.10 L1047.42 606.47 L1048.35 606.84 L1049.28 607.21 L1050.21 607.57 L1051.14 607.94 L1052.07 608.30 L1053.00 608.66 L1053.93 609.03 L1054.87 609.39 L1055.80 609.75 L1056.73 610.11 L1057.66 610.47 L1058.60 610.83 L1059.53 611.19 L1060.46 611.55 L1061.39 611.91 L1062.33 612.27 L1063.26 612.63 L1064.19 612.99 L1065.12 613.35 L1066.06 613.72 L1066.99 614.08 L1067.92 614.45 L1068.85 614.81 L1069.78 615.18 L1070.71 615.55 L1071.64 615.92 L1072.57 616.29 L1073.49 616.66 L1074.30 616.98 M1091.20 623.62 L1092.11 623.95 L1093.05 624.29 L1093.99 624.63 L1094.93 624.96 L1095.87 625.29 L1096.82 625.62 L1097.76 625.95 L1098.71 626.27 L1099.66 626.58 L1100.61 626.90 L1101.56 627.21 L1102.51 627.52 L1103.46 627.83 L1104.41 628.13 L1105.36 628.43 L1106.32 628.73 L1107.27 629.03 L1108.23 629.32 L1109.18 629.61 L1110.14 629.90 L1111.10 630.19 L1112.06 630.47 L1113.02 630.76 L1113.98 631.04 L1114.94 631.32 L1115.90 631.59 L1116.86 631.87 L1117.82 632.14 L1118.78 632.41 L1119.75 632.68 L1120.71 632.95 L1121.67 633.21 L1122.64 633.47 L1123.60 633.73 L1124.57 633.99 L1125.54 634.24 L1126.50 634.50 L1127.20 634.68 M1144.10 638.56 L1145.01 638.74 L1145.99 638.93 L1146.98 639.11 L1147.96 639.30 L1148.94 639.48 L1149.93 639.65 L1150.91 639.83 L1151.90 640.00 L1152.88 640.16 L1153.87 640.33 L1154.85 640.49 L1155.84 640.66 L1156.83 640.82 L1157.81 640.98 L1158.80 641.14 L1159.79 641.30 L1160.77 641.45 L1161.76 641.61 L1162.75 641.77 L1163.74 641.93 L1164.72 642.09 L1165.71 642.25 L1166.70 642.41 L1167.68 642.57 L1168.67 642.74 L1169.65 642.91 L1170.64 643.08 L1171.62 643.25 L1172.61 643.42 L1173.59 643.60 L1174.57 643.79 L1175.56 643.97 L1176.54 644.16 L1177.52 644.35 L1178.50 644.55 L1179.48 644.75 L1180.10 644.88 M1197.00 648.63 L1197.04 648.64 L1198.02 648.85 L1199.00 649.06 L1199.97 649.26 L1200.95 649.47 L1201.93 649.67 L1202.91 649.87 L1203.89 650.06 L1204.87 650.25 L1205.85 650.44 L1206.84 650.63 L1207.82 650.82 L1208.80 651.00 L1209.79 651.18 L1210.77 651.36 L1211.75 651.53 L1212.74 651.70 L1213.72 651.87 L1214.71 652.04 L1215.70 652.21 L1216.68 652.37 L1217.67 652.53 L1218.66 652.68 L1219.64 652.84 L1220.63 652.99 L1221.62 653.13 L1222.61 653.27 L1223.60 653.41 L1224.59 653.55 L1225.58 653.68 L1226.57 653.81 L1227.56 653.94 L1228.55 654.06 L1229.55 654.18 L1230.54 654.30 L1231.53 654.41 L1232.53 654.52 L1233.00 654.57 M1249.90 656.17 L1250.44 656.22 L1251.44 656.32 L1252.43 656.42 L1253.42 656.53 L1254.42 656.63 L1255.41 656.74 L1256.41 656.85 L1257.40 656.96 L1258.39 657.07 L1259.39 657.19 L1260.38 657.31 L1261.37 657.42 L1262.36 657.55 L1263.36 657.67 L1264.35 657.79 L1265.34 657.92 L1266.33 658.04 L1267.33 658.17 L1268.32 658.29 L1269.31 658.42 L1270.30 658.55 L1271.29 658.68 L1272.28 658.81 L1273.28 658.94 L1274.27 659.06 L1275.26 659.19 L1276.25 659.32 L1277.24 659.44 L1278.23 659.57 L1279.23 659.70 L1280.22 659.82 L1281.21 659.94 L1282.20 660.07 L1283.20 660.19 L1284.19 660.31 L1285.18 660.43 L1285.90 660.51 M1302.80 662.34 L1303.08 662.37 L1304.07 662.47 L1305.07 662.57 L1306.06 662.67 L1307.06 662.76 L1308.05 662.86 L1309.05 662.95 L1310.04 663.05 L1311.04 663.14 L1312.03 663.24 L1313.03 663.33 L1314.02 663.42 L1315.02 663.52 L1316.02 663.61 L1317.01 663.70 L1318.01 663.79 L1319.00 663.88 L1320.00 663.97 L1320.99 664.06 L1321.99 664.15 L1322.98 664.23 L1323.98 664.32 L1324.97 664.41 L1325.97 664.49 L1326.96 664.58 L1327.95 664.66 L1328.95 664.75 L1329.94 664.83 L1330.93 664.91 L1331.92 665.00 L1332.91 665.08 L1333.90 665.16 L1334.89 665.24 L1335.88 665.32 L1336.87 665.40 L1337.85 665.48 L1338.80 665.56" fill="none" stroke="#16167e" stroke-width="3.4" stroke-linecap="round" stroke-linejoin="round"/>
<path d="M373.56 64.42 L374.56 64.43 L375.56 64.43 L376.56 64.43 L377.56 64.43 L378.56 64.43 L379.56 64.43 L380.56 64.43 L381.56 64.43 L382.56 64.43 L383.56 64.43 L384.56 64.43 L385.56 64.43 L386.56 64.43 L387.24 64.43 M398.54 64.45 L398.56 64.45 L399.56 64.45 L400.56 64.45 L401.56 64.45 L402.56 64.45 L403.56 64.46 L404.56 64.46 L405.56 64.46 L406.56 64.46 L407.56 64.46 L408.56 64.47 L409.56 64.47 L410.56 64.47 L411.56 64.47 L412.56 64.48 L413.56 64.48 L414.56 64.48 L415.56 64.48 L415.84 64.48 M427.14 64.52 L427.56 64.52 L428.56 64.52 L429.56 64.53 L430.56 64.53 L431.56 64.53 L432.56 64.54 L433.56 64.54 L434.56 64.54 L435.56 64.55 L436.56 64.55 L437.56 64.55 L438.56 64.56 L439.56 64.56 L440.56 64.57 L441.56 64.57 L442.56 64.57 L443.56 64.58 L444.44 64.58 M455.74 64.63 L456.56 64.64 L457.56 64.64 L458.56 64.65 L459.56 64.65 L460.56 64.66 L461.56 64.66 L462.56 64.67 L463.56 64.67 L464.56 64.68 L465.56 64.68 L466.56 64.69 L467.56 64.69 L468.56 64.70 L469.56 64.70 L470.56 64.71 L471.56 64.71 L472.56 64.72 L473.04 64.72 M484.34 64.79 L484.56 64.79 L485.56 64.79 L486.56 64.80 L487.56 64.81 L488.56 64.81 L489.56 64.82 L490.56 64.82 L491.56 64.83 L492.56 64.84 L493.56 64.84 L494.56 64.85 L495.56 64.86 L496.56 64.86 L497.56 64.87 L498.56 64.87 L499.56 64.88 L500.56 64.89 L501.56 64.89 L501.64 64.89 M512.94 64.97 L513.56 64.98 L514.56 64.98 L515.56 64.99 L516.56 65.00 L517.56 65.00 L518.56 65.01 L519.56 65.02 L520.56 65.03 L521.56 65.03 L522.56 65.04 L523.56 65.05 L524.56 65.06 L525.56 65.06 L526.56 65.07 L527.56 65.08 L528.56 65.09 L529.56 65.09 L530.24 65.10 M541.54 65.19 L541.56 65.19 L542.56 65.19 L543.56 65.20 L544.56 65.21 L545.56 65.22 L546.56 65.23 L547.56 65.23 L548.56 65.24 L549.56 65.25 L550.56 65.26 L551.56 65.27 L552.56 65.28 L553.56 65.29 L554.56 65.30 L555.56 65.31 L556.56 65.31 L557.56 65.32 L558.56 65.33 L558.84 65.34 M570.14 65.46 L570.56 65.47 L571.56 65.48 L572.56 65.49 L573.56 65.51 L574.56 65.52 L575.56 65.53 L576.56 65.55 L577.56 65.56 L578.56 65.58 L579.56 65.59 L580.56 65.61 L581.56 65.62 L582.56 65.64 L583.56 65.65 L584.56 65.67 L585.56 65.69 L586.56 65.70 L587.44 65.72 M598.74 65.93 L599.55 65.95 L600.55 65.97 L601.55 65.99 L602.55 66.01 L603.55 66.03 L604.55 66.06 L605.55 66.08 L606.55 66.10 L607.55 66.12 L608.55 66.15 L609.55 66.17 L610.55 66.19 L611.55 66.22 L612.55 66.24 L613.55 66.27 L614.55 66.29 L615.55 66.32 L616.04 66.33 M627.34 66.67 L627.54 66.68 L628.54 66.71 L629.54 66.75 L630.54 66.79 L631.54 66.82 L632.54 66.86 L633.54 66.90 L634.54 66.95 L635.54 66.99 L636.54 67.03 L637.53 67.08 L638.53 67.13 L639.53 67.18 L640.53 67.23 L641.53 67.28 L642.53 67.34 L643.52 67.39 L644.52 67.45 L644.64 67.46 M655.94 68.34 L656.48 68.39 L657.47 68.50 L658.46 68.61 L659.45 68.72 L660.44 68.85 L661.43 68.97 L662.42 69.11 L663.41 69.25 L664.40 69.40 L665.38 69.55 L666.37 69.72 L667.35 69.89 L668.33 70.06 L669.31 70.25 L670.29 70.44 L671.27 70.63 L672.25 70.84 L673.22 71.05 L673.24 71.05 M684.54 74.01 L684.81 74.09 L685.76 74.38 L686.71 74.68 L687.66 74.99 L688.61 75.30 L689.56 75.62 L690.50 75.94 L691.44 76.28 L692.38 76.61 L693.32 76.96 L694.26 77.31 L695.19 77.66 L696.12 78.02 L697.05 78.39 L697.97 78.77 L698.89 79.15 L699.81 79.54 L700.73 79.93 L701.65 80.33 L701.84 80.42 M713.14 86.09 L713.23 86.14 L714.09 86.64 L714.94 87.15 L715.79 87.66 L716.64 88.19 L717.48 88.72 L718.31 89.27 L719.13 89.82 L719.95 90.39 L720.76 90.96 L721.57 91.55 L722.36 92.14 L723.15 92.74 L723.94 93.36 L724.71 93.98 L725.48 94.61 L726.24 95.25 L726.99 95.90 L727.74 96.56 L728.48 97.22 L729.21 97.90 L729.94 98.58 L730.44 99.06 M741.00 110.33 L741.54 110.94 L742.20 111.69 L742.86 112.44 L743.52 113.19 L744.18 113.94 L744.84 114.69 L745.49 115.45 L746.15 116.20 L746.80 116.96 L747.45 117.71 L748.10 118.47 L748.75 119.23 L749.39 120.00 L750.03 120.77 L750.66 121.54 L751.29 122.31 L751.91 123.09 L752.53 123.87 L753.14 124.66 L753.74 125.45 L754.34 126.25 L754.94 127.05 L755.36 127.63 M763.10 138.93 L763.40 139.38 L763.97 140.20 L764.54 141.02 L765.11 141.83 L765.69 142.65 L766.27 143.46 L766.85 144.27 L767.44 145.08 L768.03 145.88 L768.62 146.69 L769.21 147.49 L769.81 148.29 L770.40 149.10 L770.99 149.90 L771.59 150.70 L772.18 151.51 L772.77 152.31 L773.36 153.12 L773.94 153.93 L774.52 154.74 L775.10 155.55 L775.58 156.23 M783.22 167.53 L783.51 167.95 L784.07 168.78 L784.63 169.61 L785.19 170.43 L785.75 171.26 L786.32 172.08 L786.89 172.90 L787.46 173.72 L788.03 174.55 L788.59 175.37 L789.16 176.19 L789.73 177.01 L790.30 177.83 L790.87 178.65 L791.44 179.48 L792.00 180.30 L792.56 181.13 L793.12 181.96 L793.67 182.79 L794.22 183.62 L794.77 184.46 L795.01 184.83 M801.88 196.13 L802.04 196.40 L802.54 197.27 L803.04 198.13 L803.54 199.00 L804.04 199.86 L804.54 200.73 L805.04 201.59 L805.54 202.46 L806.04 203.33 L806.54 204.19 L807.04 205.06 L807.54 205.92 L808.04 206.79 L808.54 207.66 L809.04 208.52 L809.54 209.39 L810.04 210.25 L810.54 211.12 L811.04 211.99 L811.54 212.85 L811.88 213.43 M818.45 224.73 L818.58 224.95 L819.09 225.81 L819.60 226.67 L820.11 227.53 L820.62 228.39 L821.13 229.25 L821.64 230.11 L822.15 230.97 L822.67 231.83 L823.18 232.69 L823.69 233.55 L824.20 234.41 L824.71 235.27 L825.21 236.13 L825.72 236.99 L826.23 237.85 L826.73 238.72 L827.23 239.58 L827.73 240.45 L828.22 241.32 L828.63 242.03 M834.64 253.33 L834.80 253.66 L835.24 254.56 L835.67 255.46 L836.10 256.36 L836.52 257.27 L836.94 258.17 L837.35 259.08 L837.76 259.99 L838.17 260.91 L838.58 261.82 L838.98 262.74 L839.37 263.65 L839.77 264.57 L840.16 265.49 L840.55 266.41 L840.94 267.33 L841.33 268.25 L841.72 269.17 L842.11 270.09 L842.33 270.63 M847.16 281.93 L847.21 282.05 L847.61 282.96 L848.02 283.87 L848.43 284.79 L848.84 285.70 L849.24 286.61 L849.65 287.52 L850.06 288.43 L850.47 289.35 L850.88 290.26 L851.29 291.17 L851.69 292.08 L852.09 293.00 L852.49 293.92 L852.89 294.83 L853.28 295.75 L853.67 296.67 L854.06 297.59 L854.44 298.51 L854.73 299.23 M859.04 310.53 L859.08 310.64 L859.42 311.58 L859.76 312.52 L860.10 313.46 L860.43 314.41 L860.77 315.35 L861.11 316.29 L861.44 317.23 L861.77 318.17 L862.10 319.12 L862.43 320.06 L862.76 321.01 L863.08 321.95 L863.40 322.90 L863.72 323.85 L864.04 324.79 L864.36 325.74 L864.67 326.69 L864.98 327.64 L865.04 327.83 M868.62 339.13 L868.90 340.03 L869.21 340.98 L869.51 341.93 L869.81 342.89 L870.12 343.84 L870.43 344.79 L870.73 345.74 L871.04 346.69 L871.35 347.64 L871.65 348.60 L871.96 349.55 L872.27 350.50 L872.57 351.45 L872.88 352.40 L873.18 353.36 L873.48 354.31 L873.78 355.26 L874.08 356.22 L874.14 356.43 M877.52 367.73 L877.79 368.67 L878.06 369.64 L878.34 370.60 L878.61 371.56 L878.88 372.52 L879.15 373.48 L879.43 374.45 L879.70 375.41 L879.97 376.37 L880.24 377.33 L880.51 378.30 L880.77 379.26 L881.04 380.22 L881.31 381.19 L881.58 382.15 L881.85 383.11 L882.11 384.08 L882.38 385.03 M885.41 396.33 L885.49 396.63 L885.74 397.60 L885.99 398.57 L886.24 399.54 L886.48 400.51 L886.72 401.47 L886.97 402.45 L887.21 403.42 L887.44 404.39 L887.68 405.36 L887.92 406.33 L888.15 407.30 L888.38 408.27 L888.62 409.25 L888.85 410.22 L889.08 411.19 L889.31 412.17 L889.54 413.14 L889.65 413.63 M892.34 424.93 L892.54 425.79 L892.78 426.76 L893.02 427.73 L893.26 428.70 L893.50 429.67 L893.74 430.64 L893.98 431.61 L894.22 432.58 L894.46 433.55 L894.70 434.52 L894.94 435.49 L895.18 436.46 L895.42 437.43 L895.66 438.40 L895.90 439.38 L896.14 440.35 L896.37 441.32 L896.60 442.23 M899.32 453.53 L899.43 453.95 L899.66 454.92 L899.90 455.90 L900.14 456.87 L900.38 457.84 L900.62 458.81 L900.86 459.78 L901.10 460.75 L901.34 461.72 L901.58 462.69 L901.82 463.66 L902.07 464.63 L902.31 465.60 L902.55 466.57 L902.79 467.54 L903.04 468.51 L903.28 469.48 L903.52 470.45 L903.62 470.83 M906.52 482.13 L906.77 483.04 L907.03 484.00 L907.29 484.96 L907.56 485.93 L907.83 486.89 L908.10 487.85 L908.38 488.81 L908.65 489.77 L908.93 490.73 L909.22 491.69 L909.50 492.65 L909.79 493.61 L910.07 494.57 L910.37 495.52 L910.66 496.48 L910.95 497.43 L911.25 498.39 L911.55 499.34 L911.58 499.43 M915.31 510.73 L915.31 510.73 L915.64 511.68 L915.97 512.62 L916.30 513.57 L916.63 514.51 L916.96 515.45 L917.30 516.40 L917.63 517.34 L917.97 518.28 L918.31 519.22 L918.65 520.16 L919.00 521.10 L919.34 522.04 L919.69 522.97 L920.04 523.91 L920.39 524.85 L920.75 525.78 L921.10 526.71 L921.46 527.65 L921.61 528.03 M926.31 539.33 L926.45 539.64 L926.86 540.55 L927.27 541.46 L927.69 542.37 L928.11 543.28 L928.54 544.18 L928.96 545.08 L929.40 545.99 L929.83 546.89 L930.27 547.78 L930.70 548.68 L931.15 549.58 L931.59 550.47 L932.04 551.37 L932.49 552.26 L932.94 553.15 L933.39 554.04 L933.85 554.93 L934.31 555.82 L934.74 556.63 M941.42 567.93 L941.92 568.66 L942.49 569.47 L943.08 570.27 L943.67 571.07 L944.27 571.86 L944.88 572.65 L945.49 573.43 L946.12 574.21 L946.75 574.98 L947.38 575.75 L948.02 576.51 L948.67 577.27 L949.32 578.03 L949.97 578.78 L950.63 579.53 L951.29 580.28 L951.95 581.03 L952.61 581.78 L953.27 582.53 L953.93 583.28 L954.59 584.03 L955.26 584.77 L955.66 585.23 M966.30 596.47 L966.93 597.05 L967.66 597.73 L968.40 598.39 L969.15 599.05 L969.90 599.71 L970.65 600.35 L971.42 600.99 L972.19 601.63 L972.96 602.26 L973.73 602.88 L974.51 603.51 L975.29 604.13 L976.08 604.75 L976.86 605.36 L977.65 605.98 L978.43 606.59 L979.22 607.21 L980.01 607.82 L980.79 608.44 L981.58 609.06 L982.36 609.67 L983.15 610.29 L983.60 610.65 M994.90 619.30 L995.03 619.39 L995.85 619.97 L996.67 620.53 L997.49 621.09 L998.32 621.65 L999.15 622.20 L999.99 622.74 L1000.83 623.28 L1001.68 623.81 L1002.53 624.33 L1003.38 624.85 L1004.23 625.37 L1005.09 625.88 L1005.95 626.39 L1006.81 626.89 L1007.68 627.39 L1008.54 627.89 L1009.41 628.38 L1010.28 628.87 L1011.16 629.36 L1012.03 629.85 L1012.20 629.94 M1023.50 636.05 L1024.35 636.50 L1025.23 636.97 L1026.11 637.44 L1027.00 637.91 L1027.88 638.37 L1028.76 638.84 L1029.65 639.31 L1030.53 639.77 L1031.42 640.24 L1032.30 640.70 L1033.19 641.17 L1034.08 641.63 L1034.96 642.09 L1035.85 642.55 L1036.74 643.01 L1037.63 643.47 L1038.52 643.92 L1039.41 644.38 L1040.30 644.83 L1040.80 645.08 M1052.10 650.54 L1052.90 650.91 L1053.81 651.33 L1054.72 651.74 L1055.63 652.15 L1056.55 652.56 L1057.46 652.97 L1058.37 653.38 L1059.29 653.78 L1060.21 654.18 L1061.12 654.58 L1062.04 654.97 L1062.96 655.37 L1063.88 655.76 L1064.80 656.15 L1065.72 656.54 L1066.64 656.92 L1067.57 657.30 L1068.49 657.69 L1069.40 658.06 M1080.70 662.45 L1081.53 662.76 L1082.47 663.10 L1083.41 663.44 L1084.35 663.78 L1085.29 664.12 L1086.24 664.45 L1087.18 664.78 L1088.13 665.11 L1089.07 665.43 L1090.02 665.76 L1090.96 666.08 L1091.91 666.39 L1092.86 666.71 L1093.81 667.02 L1094.76 667.33 L1095.71 667.64 L1096.66 667.95 L1097.62 668.25 L1098.00 668.37 M1109.30 671.78 L1110.06 672.00 L1111.02 672.27 L1111.98 672.54 L1112.95 672.81 L1113.91 673.08 L1114.88 673.34 L1115.84 673.60 L1116.81 673.86 L1117.77 674.12 L1118.74 674.37 L1119.71 674.62 L1120.68 674.87 L1121.64 675.12 L1122.61 675.37 L1123.58 675.61 L1124.55 675.85 L1125.52 676.09 L1126.50 676.33 L1126.60 676.35 M1137.90 678.95 L1138.19 679.01 L1139.17 679.22 L1140.14 679.44 L1141.12 679.65 L1142.10 679.85 L1143.08 680.06 L1144.06 680.27 L1145.03 680.47 L1146.01 680.67 L1146.99 680.87 L1147.97 681.07 L1148.95 681.27 L1149.93 681.47 L1150.91 681.67 L1151.89 681.86 L1152.87 682.06 L1153.86 682.25 L1154.84 682.45 L1155.20 682.52 M1166.50 684.69 L1166.62 684.72 L1167.60 684.90 L1168.58 685.09 L1169.57 685.28 L1170.55 685.46 L1171.53 685.65 L1172.51 685.84 L1173.50 686.03 L1174.48 686.21 L1175.46 686.40 L1176.44 686.59 L1177.42 686.78 L1178.41 686.97 L1179.39 687.16 L1180.37 687.35 L1181.35 687.54 L1182.33 687.73 L1183.31 687.93 L1183.80 688.02 M1195.10 690.22 L1196.08 690.40 L1197.06 690.58 L1198.04 690.77 L1199.02 690.95 L1200.01 691.13 L1200.99 691.30 L1201.98 691.48 L1202.96 691.65 L1203.95 691.82 L1204.93 691.99 L1205.92 692.15 L1206.90 692.31 L1207.89 692.47 L1208.88 692.62 L1209.87 692.78 L1210.86 692.92 L1211.84 693.07 L1212.40 693.14 M1223.70 694.48 L1223.75 694.49 L1224.75 694.58 L1225.74 694.67 L1226.74 694.76 L1227.73 694.84 L1228.73 694.93 L1229.73 695.01 L1230.72 695.08 L1231.72 695.16 L1232.72 695.23 L1233.71 695.30 L1234.71 695.37 L1235.71 695.44 L1236.71 695.50 L1237.71 695.56 L1238.70 695.63 L1239.70 695.69 L1240.70 695.75 L1241.00 695.76 M1252.30 696.35 L1252.68 696.37 L1253.68 696.42 L1254.68 696.46 L1255.68 696.51 L1256.68 696.55 L1257.68 696.60 L1258.68 696.64 L1259.68 696.68 L1260.67 696.72 L1261.67 696.76 L1262.67 696.80 L1263.67 696.84 L1264.67 696.88 L1265.67 696.92 L1266.67 696.96 L1267.67 697.00 L1268.67 697.03 L1269.60 697.07 M1280.90 697.46 L1281.66 697.49 L1282.66 697.52 L1283.66 697.56 L1284.66 697.59 L1285.66 697.62 L1286.66 697.65 L1287.66 697.69 L1288.66 697.72 L1289.66 697.75 L1290.66 697.78 L1291.66 697.81 L1292.65 697.84 L1293.65 697.87 L1294.65 697.90 L1295.65 697.94 L1296.65 697.97 L1297.65 697.99 L1298.20 698.01 M1309.50 698.32 L1309.65 698.33 L1310.65 698.35 L1311.65 698.38 L1312.65 698.40 L1313.65 698.43 L1314.65 698.45 L1315.64 698.48 L1316.64 698.50 L1317.64 698.52 L1318.64 698.54 L1319.64 698.57 L1320.64 698.59 L1321.64 698.61 L1322.63 698.63 L1323.63 698.65 L1324.63 698.67 L1325.62 698.69 L1326.61 698.71 L1326.80 698.71 M1338.10 698.90 L1338.40 698.90 L1339.37 698.92 L1340.35 698.93 L1341.32 698.94" fill="none" stroke="#007a30" stroke-width="3.4" stroke-linecap="round" stroke-linejoin="round"/>
<path d="M373.56 64.42 L374.56 64.43 L375.56 64.43 L376.56 64.43 L377.56 64.43 L378.56 64.43 L379.56 64.43 L380.56 64.43 L381.56 64.43 L382.56 64.43 L383.56 64.43 L384.56 64.43 L385.56 64.43 L386.56 64.43 L387.56 64.43 L388.56 64.43 L389.56 64.43 L390.56 64.44 L391.56 64.44 L392.56 64.44 L393.56 64.44 L394.56 64.44 L395.16 64.44 M405.76 64.46 L405.77 64.46 M416.37 64.48 L416.56 64.48 L417.56 64.48 L418.56 64.48 L419.56 64.49 L420.56 64.49 L421.56 64.49 L422.56 64.49 L423.56 64.50 L424.56 64.50 L425.56 64.50 L426.56 64.51 L427.56 64.51 L428.56 64.51 L429.56 64.51 L430.56 64.52 L431.56 64.52 L432.56 64.52 L433.56 64.53 L434.56 64.53 L435.56 64.53 L436.56 64.54 L437.56 64.54 L438.56 64.54 L439.56 64.55 L440.27 64.55 M450.87 64.59 L450.88 64.59 M461.48 64.64 L461.56 64.64 L462.56 64.64 L463.56 64.65 L464.56 64.65 L465.56 64.66 L466.56 64.66 L467.56 64.67 L468.56 64.67 L469.56 64.68 L470.56 64.68 L471.56 64.69 L472.56 64.70 L473.56 64.70 L474.56 64.71 L475.56 64.71 L476.56 64.72 L477.56 64.72 L478.56 64.73 L479.56 64.73 L480.56 64.74 L481.56 64.74 L482.56 64.75 L483.56 64.76 L484.56 64.76 L485.38 64.77 M495.98 64.83 L495.99 64.83 M506.59 64.90 L507.56 64.91 L508.56 64.92 L509.56 64.93 L510.56 64.93 L511.56 64.94 L512.56 64.95 L513.56 64.95 L514.56 64.96 L515.56 64.97 L516.56 64.98 L517.56 64.98 L518.56 64.99 L519.56 65.00 L520.56 65.01 L521.56 65.01 L522.56 65.02 L523.56 65.03 L524.56 65.04 L525.56 65.04 L526.56 65.05 L527.56 65.06 L528.56 65.07 L529.56 65.08 L530.49 65.08 M541.09 65.17 L541.10 65.17 M551.70 65.28 L552.56 65.29 L553.56 65.30 L554.56 65.31 L555.56 65.32 L556.56 65.34 L557.56 65.35 L558.56 65.37 L559.56 65.38 L560.56 65.40 L561.56 65.41 L562.56 65.43 L563.56 65.44 L564.56 65.46 L565.56 65.48 L566.56 65.50 L567.56 65.52 L568.56 65.54 L569.56 65.56 L570.56 65.58 L571.55 65.60 L572.55 65.63 L573.55 65.65 L574.55 65.67 L575.55 65.70 L575.60 65.70 M586.20 65.99 L586.21 65.99 M596.81 66.34 L597.54 66.36 L598.54 66.40 L599.54 66.43 L600.54 66.47 L601.54 66.51 L602.54 66.54 L603.54 66.58 L604.54 66.62 L605.54 66.65 L606.54 66.69 L607.54 66.73 L608.54 66.77 L609.54 66.81 L610.53 66.84 L611.53 66.88 L612.53 66.92 L613.53 66.96 L614.53 67.00 L615.53 67.04 L616.53 67.08 L617.53 67.12 L618.53 67.16 L619.53 67.20 L620.53 67.25 L620.71 67.25 M631.31 67.72 L631.32 67.72 M641.92 68.28 L642.50 68.31 L643.50 68.37 L644.50 68.43 L645.49 68.50 L646.49 68.56 L647.49 68.62 L648.49 68.69 L649.48 68.76 L650.48 68.83 L651.48 68.90 L652.48 68.97 L653.47 69.04 L654.47 69.12 L655.47 69.20 L656.46 69.28 L657.46 69.36 L658.46 69.44 L659.45 69.53 L660.45 69.62 L661.44 69.71 L662.44 69.81 L663.43 69.90 L664.43 70.00 L665.42 70.11 L665.82 70.15 M676.42 71.53 L676.43 71.53 M687.03 73.78 L687.97 74.05 L688.92 74.34 L689.86 74.64 L690.80 74.95 L691.73 75.28 L692.66 75.62 L693.58 75.98 L694.50 76.35 L695.41 76.74 L696.31 77.14 L697.21 77.56 L698.10 77.99 L698.99 78.43 L699.87 78.89 L700.75 79.35 L701.62 79.83 L702.48 80.32 L703.34 80.82 L704.19 81.33 L705.04 81.85 L705.89 82.38 L706.72 82.92 L707.56 83.46 L708.39 84.01 L709.21 84.57 L710.04 85.14 L710.85 85.71 L710.93 85.76 M721.53 94.14 L721.54 94.15 M732.04 104.33 L732.51 104.82 L733.19 105.55 L733.87 106.29 L734.55 107.02 L735.22 107.76 L735.89 108.50 L736.55 109.25 L737.21 110.00 L737.87 110.75 L738.52 111.51 L739.17 112.27 L739.81 113.03 L740.45 113.80 L741.09 114.57 L741.72 115.34 L742.35 116.12 L742.97 116.90 L743.59 117.68 L744.20 118.47 L744.81 119.26 L745.42 120.06 L746.01 120.86 L746.61 121.66 L747.20 122.47 L747.78 123.28 L748.36 124.09 L748.93 124.91 L749.50 125.73 L750.07 126.55 L750.63 127.38 L751.18 128.21 L751.19 128.23 M757.93 138.83 L757.93 138.84 M764.73 149.44 L765.17 150.10 L765.73 150.93 L766.28 151.76 L766.85 152.59 L767.41 153.42 L767.97 154.24 L768.54 155.06 L769.11 155.89 L769.68 156.71 L770.25 157.53 L770.83 158.35 L771.40 159.16 L771.98 159.98 L772.55 160.80 L773.13 161.61 L773.71 162.43 L774.29 163.24 L774.87 164.06 L775.45 164.88 L776.03 165.69 L776.60 166.51 L777.18 167.32 L777.76 168.14 L778.33 168.96 L778.91 169.77 L779.48 170.59 L780.06 171.41 L780.63 172.23 L781.20 173.05 L781.40 173.34 M788.53 183.94 L788.53 183.95 M795.33 194.55 L795.47 194.78 L796.01 195.62 L796.54 196.47 L797.08 197.31 L797.61 198.16 L798.14 199.01 L798.67 199.85 L799.20 200.70 L799.74 201.55 L800.27 202.40 L800.79 203.24 L801.32 204.09 L801.85 204.94 L802.37 205.80 L802.89 206.65 L803.41 207.50 L803.93 208.36 L804.44 209.22 L804.95 210.07 L805.46 210.93 L805.96 211.80 L806.46 212.66 L806.96 213.53 L807.45 214.40 L807.94 215.27 L808.43 216.14 L808.91 217.02 L809.39 217.89 L809.69 218.45 M815.34 229.05 L815.35 229.06 M821.04 239.66 L821.17 239.91 L821.63 240.79 L822.09 241.68 L822.55 242.57 L823.00 243.46 L823.45 244.35 L823.89 245.25 L824.33 246.14 L824.77 247.04 L825.21 247.94 L825.64 248.84 L826.07 249.74 L826.50 250.65 L826.92 251.55 L827.35 252.46 L827.77 253.36 L828.19 254.27 L828.62 255.17 L829.04 256.08 L829.46 256.99 L829.89 257.89 L830.31 258.80 L830.73 259.70 L831.16 260.61 L831.59 261.51 L832.02 262.41 L832.45 263.31 L832.57 263.56 M837.74 274.16 L837.75 274.17 M842.78 284.77 L842.85 284.93 L843.26 285.84 L843.67 286.76 L844.08 287.67 L844.48 288.59 L844.88 289.50 L845.27 290.42 L845.67 291.34 L846.06 292.26 L846.44 293.18 L846.83 294.10 L847.21 295.03 L847.59 295.95 L847.96 296.88 L848.33 297.81 L848.70 298.74 L849.07 299.67 L849.43 300.60 L849.79 301.53 L850.15 302.46 L850.50 303.40 L850.85 304.33 L851.20 305.27 L851.55 306.21 L851.89 307.15 L852.23 308.09 L852.44 308.67 M856.06 319.27 L856.07 319.28 M859.53 329.88 L859.53 329.89 L859.84 330.84 L860.15 331.80 L860.46 332.75 L860.77 333.70 L861.08 334.65 L861.38 335.60 L861.69 336.55 L862.00 337.50 L862.30 338.46 L862.61 339.41 L862.91 340.36 L863.21 341.31 L863.52 342.27 L863.82 343.22 L864.12 344.17 L864.42 345.13 L864.72 346.08 L865.01 347.04 L865.31 347.99 L865.60 348.95 L865.90 349.91 L866.19 350.86 L866.48 351.82 L866.76 352.78 L867.05 353.73 L867.07 353.78 M870.15 364.38 L870.15 364.39 M873.14 374.99 L873.37 375.85 L873.64 376.81 L873.91 377.77 L874.18 378.74 L874.44 379.70 L874.71 380.66 L874.98 381.63 L875.24 382.59 L875.51 383.56 L875.77 384.52 L876.03 385.49 L876.30 386.45 L876.56 387.42 L876.82 388.38 L877.08 389.35 L877.33 390.31 L877.59 391.28 L877.85 392.25 L878.10 393.21 L878.35 394.18 L878.60 395.15 L878.85 396.12 L879.10 397.09 L879.34 398.06 L879.55 398.89 M882.14 409.49 L882.14 409.50 M884.64 420.10 L884.72 420.42 L884.95 421.39 L885.18 422.36 L885.41 423.34 L885.64 424.31 L885.87 425.28 L886.09 426.26 L886.32 427.23 L886.55 428.20 L886.78 429.18 L887.01 430.15 L887.24 431.12 L887.47 432.10 L887.70 433.07 L887.93 434.05 L888.15 435.02 L888.38 435.99 L888.61 436.97 L888.84 437.94 L889.06 438.91 L889.29 439.89 L889.52 440.86 L889.74 441.84 L889.97 442.81 L890.19 443.79 L890.24 444.00 M892.68 454.60 L892.69 454.61 M895.18 465.21 L895.18 465.21 L895.42 466.18 L895.65 467.15 L895.89 468.13 L896.13 469.10 L896.37 470.07 L896.61 471.04 L896.84 472.01 L897.09 472.98 L897.33 473.95 L897.57 474.92 L897.81 475.89 L898.06 476.86 L898.30 477.83 L898.55 478.80 L898.79 479.77 L899.04 480.74 L899.29 481.71 L899.53 482.68 L899.78 483.65 L900.03 484.61 L900.28 485.58 L900.53 486.55 L900.78 487.52 L901.04 488.48 L901.20 489.11 M904.05 499.71 L904.06 499.72 M907.15 510.32 L907.24 510.63 L907.54 511.58 L907.84 512.53 L908.14 513.49 L908.44 514.44 L908.75 515.39 L909.06 516.34 L909.37 517.29 L909.68 518.24 L909.99 519.19 L910.31 520.14 L910.63 521.09 L910.95 522.04 L911.27 522.98 L911.60 523.93 L911.92 524.87 L912.25 525.82 L912.58 526.76 L912.91 527.71 L913.24 528.65 L913.57 529.59 L913.91 530.53 L914.24 531.48 L914.58 532.42 L914.91 533.36 L915.22 534.22 M919.09 544.82 L919.09 544.83 M923.29 555.43 L923.44 555.78 L923.83 556.70 L924.22 557.62 L924.62 558.54 L925.03 559.45 L925.43 560.36 L925.85 561.27 L926.26 562.18 L926.69 563.08 L927.11 563.99 L927.54 564.89 L927.98 565.79 L928.42 566.68 L928.87 567.58 L929.32 568.47 L929.78 569.35 L930.24 570.24 L930.71 571.12 L931.19 572.00 L931.67 572.87 L932.15 573.74 L932.65 574.61 L933.15 575.47 L933.65 576.33 L934.16 577.19 L934.68 578.04 L935.21 578.89 L935.48 579.33 M942.85 589.93 L942.86 589.94 M951.57 600.54 L952.09 601.13 L952.75 601.88 L953.42 602.63 L954.09 603.37 L954.76 604.11 L955.43 604.85 L956.11 605.58 L956.79 606.31 L957.48 607.04 L958.17 607.76 L958.86 608.49 L959.55 609.21 L960.25 609.92 L960.95 610.63 L961.65 611.34 L962.36 612.05 L963.07 612.75 L963.79 613.44 L964.51 614.14 L965.23 614.82 L965.96 615.51 L966.69 616.19 L967.42 616.86 L968.16 617.53 L968.91 618.20 L969.66 618.86 L970.41 619.51 L971.17 620.16 L971.93 620.81 L972.70 621.45 L973.47 622.08 L974.24 622.71 L974.75 623.12 M985.35 630.92 L985.36 630.92 M995.96 637.85 L996.37 638.11 L997.21 638.64 L998.06 639.17 L998.91 639.70 L999.76 640.23 L1000.61 640.75 L1001.46 641.28 L1002.32 641.80 L1003.17 642.32 L1004.03 642.84 L1004.88 643.35 L1005.74 643.87 L1006.60 644.38 L1007.46 644.89 L1008.32 645.40 L1009.18 645.91 L1010.04 646.42 L1010.90 646.92 L1011.77 647.42 L1012.63 647.92 L1013.50 648.42 L1014.37 648.92 L1015.24 649.42 L1016.11 649.91 L1016.98 650.40 L1017.85 650.89 L1018.72 651.38 L1019.59 651.87 L1019.86 652.02 M1030.46 657.78 L1030.47 657.79 M1041.07 663.20 L1041.71 663.51 L1042.61 663.94 L1043.51 664.38 L1044.41 664.81 L1045.31 665.23 L1046.22 665.66 L1047.13 666.08 L1048.03 666.49 L1048.94 666.91 L1049.86 667.32 L1050.77 667.73 L1051.68 668.13 L1052.60 668.53 L1053.51 668.93 L1054.43 669.33 L1055.35 669.72 L1056.27 670.11 L1057.19 670.50 L1058.12 670.88 L1059.04 671.26 L1059.97 671.64 L1060.89 672.02 L1061.82 672.39 L1062.75 672.76 L1063.68 673.13 L1064.60 673.50 L1064.97 673.64 M1075.57 677.68 L1075.58 677.68 M1086.18 681.52 L1087.10 681.85 L1088.04 682.19 L1088.99 682.52 L1089.93 682.86 L1090.87 683.19 L1091.81 683.53 L1092.76 683.86 L1093.70 684.19 L1094.64 684.53 L1095.58 684.86 L1096.53 685.19 L1097.47 685.52 L1098.42 685.85 L1099.36 686.18 L1100.30 686.51 L1101.25 686.84 L1102.19 687.17 L1103.14 687.49 L1104.08 687.82 L1105.03 688.14 L1105.97 688.47 L1106.92 688.79 L1107.87 689.11 L1108.82 689.43 L1109.76 689.75 L1110.08 689.86 M1120.68 693.28 L1120.69 693.28 M1131.29 696.39 L1131.74 696.52 L1132.70 696.78 L1133.67 697.04 L1134.63 697.30 L1135.60 697.55 L1136.57 697.81 L1137.53 698.06 L1138.50 698.30 L1139.47 698.55 L1140.44 698.79 L1141.41 699.03 L1142.38 699.27 L1143.35 699.51 L1144.33 699.74 L1145.30 699.97 L1146.27 700.20 L1147.25 700.43 L1148.22 700.65 L1149.19 700.88 L1150.17 701.10 L1151.15 701.32 L1152.12 701.53 L1153.10 701.75 L1154.07 701.96 L1155.05 702.18 L1155.19 702.21 M1165.79 704.40 L1165.80 704.40 M1176.40 706.40 L1176.63 706.44 L1177.61 706.62 L1178.60 706.79 L1179.58 706.97 L1180.57 707.14 L1181.55 707.31 L1182.54 707.48 L1183.52 707.65 L1184.51 707.82 L1185.50 707.98 L1186.48 708.15 L1187.47 708.32 L1188.45 708.48 L1189.44 708.64 L1190.43 708.80 L1191.42 708.96 L1192.40 709.12 L1193.39 709.28 L1194.38 709.44 L1195.36 709.60 L1196.35 709.75 L1197.34 709.90 L1198.33 710.06 L1199.32 710.21 L1200.30 710.36 M1210.90 711.84 L1210.91 711.84 M1221.51 713.01 L1222.13 713.07 L1223.12 713.16 L1224.12 713.25 L1225.12 713.34 L1226.11 713.42 L1227.11 713.50 L1228.10 713.58 L1229.10 713.65 L1230.10 713.73 L1231.10 713.80 L1232.09 713.87 L1233.09 713.93 L1234.09 714.00 L1235.09 714.06 L1236.08 714.13 L1237.08 714.19 L1238.08 714.25 L1239.08 714.31 L1240.08 714.36 L1241.08 714.42 L1242.07 714.47 L1243.07 714.53 L1244.07 714.58 L1245.07 714.63 L1245.41 714.65 M1256.01 715.16 L1256.02 715.16 M1266.62 715.62 L1267.05 715.64 L1268.05 715.68 L1269.04 715.72 L1270.04 715.77 L1271.04 715.81 L1272.04 715.85 L1273.04 715.89 L1274.04 715.94 L1275.04 715.98 L1276.04 716.02 L1277.04 716.06 L1278.04 716.11 L1279.04 716.15 L1280.03 716.19 L1281.03 716.23 L1282.03 716.28 L1283.03 716.32 L1284.03 716.36 L1285.03 716.40 L1286.03 716.45 L1287.03 716.49 L1288.03 716.53 L1289.03 716.57 L1290.03 716.61 L1290.52 716.63 M1301.12 717.06 L1301.13 717.06 M1311.73 717.47 L1312.01 717.48 L1313.01 717.52 L1314.01 717.55 L1315.01 717.59 L1316.01 717.63 L1317.00 717.66 L1318.00 717.70 L1319.00 717.74 L1320.00 717.77 L1321.00 717.81 L1322.00 717.84 L1322.99 717.88 L1323.99 717.91 L1324.99 717.95 L1325.99 717.98 L1326.98 718.01 L1327.98 718.05 L1328.97 718.08 L1329.96 718.11 L1330.95 718.15 L1331.95 718.18 L1332.94 718.21 L1333.92 718.25 L1334.91 718.28 L1335.63 718.30" fill="none" stroke="#7c7c24" stroke-width="3.4" stroke-linecap="round" stroke-linejoin="round"/>
<rect x="337.70" y="22.00" width="1004.10" height="722.00" fill="none" stroke="#111" stroke-width="3.3" stroke-linejoin="round"/>
<path d="M327.20 744.00H337.70 M327.20 659.00H337.70 M327.20 574.00H337.70 M327.20 489.00H337.70 M327.20 404.00H337.70 M327.20 319.00H337.70 M327.20 234.00H337.70 M327.20 149.00H337.70 M327.20 64.00H337.70 M337.70 744.00V754.50 M481.14 744.00V754.50 M624.59 744.00V754.50 M768.03 744.00V754.50 M911.47 744.00V754.50 M1054.91 744.00V754.50 M1198.36 744.00V754.50 M1341.80 744.00V754.50" stroke="#111" stroke-width="3.3" stroke-linecap="round" fill="none"/>
<text x="302.5" y="761.90" font-size="50" text-anchor="end">20</text>
<text x="302.5" y="676.90" font-size="50" text-anchor="end">30</text>
<text x="302.5" y="591.90" font-size="50" text-anchor="end">40</text>
<text x="302.5" y="506.90" font-size="50" text-anchor="end">50</text>
<text x="302.5" y="421.90" font-size="50" text-anchor="end">60</text>
<text x="302.5" y="336.90" font-size="50" text-anchor="end">70</text>
<text x="302.5" y="251.90" font-size="50" text-anchor="end">80</text>
<text x="302.5" y="166.90" font-size="50" text-anchor="end">90</text>
<text x="302.5" y="81.90" font-size="50" text-anchor="end">100</text>
<text x="337.70" y="825.8" font-size="50" text-anchor="middle">0</text>
<text x="481.14" y="825.8" font-size="50" text-anchor="middle">100</text>
<text x="624.59" y="825.8" font-size="50" text-anchor="middle">200</text>
<text x="768.03" y="825.8" font-size="50" text-anchor="middle">300</text>
<text x="911.47" y="825.8" font-size="50" text-anchor="middle">400</text>
<text x="1054.91" y="825.8" font-size="50" text-anchor="middle">500</text>
<text x="1198.36" y="825.8" font-size="50" text-anchor="middle">600</text>
<text x="1341.80" y="825.8" font-size="50" text-anchor="middle">700</text>
<text x="842" y="923.3" font-size="56.6" text-anchor="middle">Temperature (<tspan font-size="36" dy="-31">o</tspan><tspan dy="31">C)</tspan></text>
<text transform="translate(180,382.7) rotate(-90)" x="0" y="0" font-size="56.6" text-anchor="middle">Weight (%)</text>
<text x="4.5" y="95" font-size="100" letter-spacing="1.5">(a)</text>
<path d="M989.70 69.90H1077.70" fill="none" stroke="#8a0f16" stroke-width="3.6" stroke-linecap="round" stroke-linejoin="round"/>
<text x="1099.40" y="77.60" font-size="39.5" fill="#680008">PK/O<tspan font-size="25" dy="12.5">2</tspan><tspan dy="-12.5">-G</tspan></text>
<path d="M989.70 125.60H1077.70" fill="none" stroke="#16167e" stroke-width="3.6" stroke-linecap="round" stroke-linejoin="round" stroke-dasharray="36.2 17"/>
<text x="1099.40" y="138.60" font-size="39.5" fill="#0c0a58">pristine PK</text>
<path d="M989.70 175.90H1077.70" fill="none" stroke="#007a30" stroke-width="3.6" stroke-linecap="round" stroke-linejoin="round" stroke-dasharray="17.3 11.3"/>
<text x="1099.40" y="188.20" font-size="39.5" fill="#006418">PK/G</text>
<path d="M989.70 231.10H1077.70" fill="none" stroke="#7c7c24" stroke-width="3.6" stroke-linecap="round" stroke-linejoin="round" stroke-dasharray="23.9 10.72 0.01 10.72"/>
<text x="1099.40" y="238.90" font-size="39.5" fill="#60600a">PK/N<tspan font-size="25" dy="12.5">2</tspan><tspan dy="-12.5">-G</tspan></text>
<path d="M339.30 1044.50 L340.30 1044.50 L341.30 1044.50 L342.30 1044.50 L343.30 1044.50 L344.30 1044.50 L345.30 1044.50 L346.30 1044.50 L347.30 1044.50 L348.30 1044.50 L349.30 1044.50 L350.30 1044.50 L351.30 1044.50 L352.30 1044.50 L353.30 1044.50 L354.30 1044.50 L355.30 1044.50 L356.30 1044.50 L357.30 1044.50 L358.30 1044.50 L359.30 1044.50 L360.30 1044.50 L361.30 1044.50 L362.30 1044.50 L363.30 1044.50 L364.30 1044.50 L365.30 1044.50 L366.30 1044.50 L367.30 1044.50 L368.30 1044.50 L369.30 1044.50 L370.30 1044.50 L371.30 1044.50 L372.30 1044.50 L373.30 1044.50 L374.30 1044.50 L375.30 1044.50 L376.30 1044.50 L377.30 1044.50 L378.30 1044.50 L379.30 1044.50 L380.30 1044.50 L381.30 1044.50 L382.30 1044.50 L383.30 1044.50 L384.30 1044.50 L385.30 1044.50 L386.30 1044.50 L387.30 1044.50 L388.30 1044.50 L389.30 1044.50 L390.30 1044.50 L391.30 1044.50 L392.30 1044.50 L393.30 1044.50 L394.30 1044.50 L395.30 1044.50 L396.30 1044.50 L397.30 1044.50 L398.30 1044.50 L399.30 1044.50 L400.30 1044.50 L401.30 1044.50 L402.30 1044.50 L403.30 1044.50 L404.30 1044.50 L405.30 1044.50 L406.30 1044.50 L407.30 1044.50 L408.30 1044.50 L409.30 1044.50 L410.30 1044.50 L411.30 1044.50 L412.30 1044.50 L413.30 1044.50 L414.30 1044.50 L415.30 1044.50 L416.30 1044.50 L417.30 1044.50 L418.30 1044.50 L419.30 1044.50 L420.30 1044.50 L421.30 1044.50 L422.30 1044.50 L423.30 1044.50 L424.30 1044.50 L425.30 1044.50 L426.30 1044.50 L427.30 1044.50 L428.30 1044.50 L429.30 1044.50 L430.30 1044.50 L431.30 1044.50 L432.30 1044.50 L433.30 1044.50 L434.30 1044.50 L435.30 1044.50 L436.30 1044.50 L437.30 1044.50 L438.30 1044.50 L439.30 1044.50 L440.30 1044.50 L441.30 1044.50 L442.30 1044.50 L443.30 1044.50 L444.30 1044.50 L445.30 1044.50 L446.30 1044.50 L447.30 1044.50 L448.30 1044.50 L449.30 1044.50 L450.30 1044.50 L451.30 1044.50 L452.30 1044.50 L453.30 1044.50 L454.30 1044.50 L455.30 1044.50 L456.30 1044.50 L457.30 1044.50 L458.30 1044.50 L459.30 1044.50 L460.30 1044.50 L461.30 1044.50 L462.30 1044.50 L463.30 1044.50 L464.30 1044.50 L465.30 1044.50 L466.30 1044.50 L467.30 1044.51 L468.30 1044.51 L469.30 1044.51 L470.30 1044.51 L471.30 1044.52 L472.30 1044.52 L473.30 1044.52 L474.30 1044.53 L475.30 1044.53 L476.30 1044.54 L477.30 1044.54 L478.30 1044.55 L479.30 1044.56 L480.30 1044.56 L481.30 1044.57 L482.30 1044.58 L483.30 1044.58 L484.30 1044.59 L485.30 1044.60 L486.30 1044.60 L487.30 1044.61 L488.30 1044.62 L489.30 1044.63 L490.30 1044.63 L491.30 1044.64 L492.30 1044.65 L493.30 1044.65 L494.30 1044.66 L495.30 1044.67 L496.30 1044.67 L497.30 1044.68 L498.30 1044.68 L499.30 1044.69 L500.30 1044.70 L501.30 1044.70 L502.30 1044.71 L503.30 1044.71 L504.30 1044.71 L505.30 1044.72 L506.30 1044.72 L507.30 1044.73 L508.30 1044.73 L509.30 1044.73 L510.30 1044.74 L511.30 1044.74 L512.30 1044.74 L513.30 1044.75 L514.30 1044.75 L515.30 1044.75 L516.30 1044.76 L517.30 1044.76 L518.30 1044.76 L519.30 1044.76 L520.30 1044.77 L521.30 1044.77 L522.30 1044.77 L523.30 1044.78 L524.30 1044.78 L525.30 1044.78 L526.30 1044.79 L527.30 1044.79 L528.30 1044.79 L529.30 1044.80 L530.30 1044.80 L531.30 1044.81 L532.30 1044.81 L533.30 1044.81 L534.30 1044.82 L535.30 1044.82 L536.30 1044.83 L537.30 1044.83 L538.30 1044.84 L539.30 1044.85 L540.30 1044.85 L541.30 1044.86 L542.30 1044.87 L543.30 1044.88 L544.30 1044.89 L545.30 1044.90 L546.30 1044.91 L547.30 1044.92 L548.30 1044.94 L549.30 1044.95 L550.30 1044.97 L551.30 1044.99 L552.30 1045.01 L553.30 1045.04 L554.30 1045.06 L555.30 1045.09 L556.30 1045.12 L557.30 1045.15 L558.29 1045.18 L559.29 1045.22 L560.29 1045.25 L561.29 1045.29 L562.29 1045.33 L563.29 1045.37 L564.29 1045.41 L565.29 1045.45 L566.29 1045.50 L567.29 1045.54 L568.29 1045.58 L569.29 1045.63 L570.28 1045.68 L571.28 1045.72 L572.28 1045.77 L573.28 1045.82 L574.28 1045.88 L575.28 1045.93 L576.28 1045.99 L577.27 1046.04 L578.27 1046.10 L579.27 1046.16 L580.27 1046.23 L581.27 1046.29 L582.26 1046.36 L583.26 1046.43 L584.26 1046.50 L585.26 1046.57 L586.25 1046.64 L587.25 1046.72 L588.25 1046.79 L589.25 1046.87 L590.24 1046.95 L591.24 1047.04 L592.23 1047.12 L593.23 1047.21 L594.23 1047.30 L595.22 1047.39 L596.22 1047.48 L597.21 1047.58 L598.21 1047.68 L599.20 1047.78 L600.20 1047.89 L601.19 1047.99 L602.19 1048.10 L603.18 1048.22 L604.17 1048.33 L605.16 1048.45 L606.16 1048.57 L607.15 1048.69 L608.14 1048.82 L609.13 1048.94 L610.13 1049.07 L611.12 1049.20 L612.11 1049.33 L613.10 1049.46 L614.09 1049.59 L615.08 1049.73 L616.07 1049.86 L617.06 1050.00 L618.05 1050.13 L619.05 1050.27 L620.04 1050.40 L621.03 1050.54 L622.02 1050.68 L623.01 1050.82 L624.00 1050.96 L624.99 1051.09 L625.98 1051.23 L626.97 1051.37 L627.96 1051.52 L628.95 1051.66 L629.94 1051.80 L630.93 1051.94 L631.92 1052.09 L632.91 1052.24 L633.90 1052.38 L634.88 1052.53 L635.87 1052.68 L636.86 1052.83 L637.85 1052.98 L638.84 1053.13 L639.83 1053.29 L640.82 1053.44 L641.80 1053.59 L642.79 1053.75 L643.78 1053.90 L644.77 1054.05 L645.76 1054.21 L646.74 1054.36 L647.73 1054.52 L648.72 1054.67 L649.71 1054.83 L650.70 1054.98 L651.68 1055.13 L652.67 1055.28 L653.66 1055.44 L654.65 1055.59 L655.64 1055.74 L656.63 1055.89 L657.62 1056.04 L658.60 1056.18 L659.59 1056.33 L660.58 1056.48 L661.57 1056.63 L662.56 1056.77 L663.55 1056.92 L664.54 1057.07 L665.53 1057.21 L666.52 1057.36 L667.51 1057.50 L668.50 1057.65 L669.49 1057.79 L670.48 1057.94 L671.47 1058.08 L672.45 1058.23 L673.44 1058.37 L674.43 1058.52 L675.42 1058.67 L676.41 1058.81 L677.40 1058.96 L678.39 1059.11 L679.38 1059.26 L680.37 1059.41 L681.36 1059.56 L682.34 1059.71 L683.33 1059.86 L684.32 1060.02 L685.31 1060.17 L686.30 1060.33 L687.28 1060.49 L688.27 1060.65 L689.26 1060.81 L690.24 1060.97 L691.23 1061.13 L692.22 1061.30 L693.20 1061.46 L694.19 1061.62 L695.18 1061.78 L696.16 1061.94 L697.15 1062.10 L698.14 1062.25 L699.13 1062.40 L700.12 1062.54 L701.11 1062.69 L702.10 1062.82 L703.09 1062.96 L704.08 1063.09 L705.07 1063.22 L706.06 1063.34 L707.06 1063.47 L708.05 1063.59 L709.04 1063.70 L710.03 1063.82 L711.03 1063.94 L712.02 1064.05 L713.01 1064.17 L714.01 1064.28 L715.00 1064.39 L715.99 1064.51 L716.99 1064.62 L717.98 1064.73 L718.98 1064.85 L719.97 1064.96 L720.96 1065.07 L721.96 1065.19 L722.95 1065.30 L723.94 1065.42 L724.94 1065.53 L725.93 1065.65 L726.92 1065.76 L727.92 1065.88 L728.91 1065.99 L729.90 1066.11 L730.90 1066.22 L731.89 1066.34 L732.88 1066.45 L733.88 1066.56 L734.87 1066.68 L735.86 1066.79 L736.86 1066.91 L737.85 1067.02 L738.84 1067.14 L739.84 1067.25 L740.83 1067.37 L741.82 1067.48 L742.82 1067.60 L743.81 1067.71 L744.80 1067.83 L745.80 1067.94 L746.79 1068.06 L747.78 1068.17 L748.78 1068.29 L749.77 1068.40 L750.76 1068.52 L751.76 1068.63 L752.75 1068.75 L753.74 1068.86 L754.74 1068.98 L755.73 1069.09 L756.72 1069.21 L757.72 1069.32 L758.71 1069.44 L759.70 1069.55 L760.70 1069.67 L761.69 1069.78 L762.68 1069.90 L763.68 1070.01 L764.67 1070.13 L765.66 1070.24 L766.66 1070.35 L767.65 1070.47 L768.65 1070.59 L769.64 1070.70 L770.63 1070.82 L771.62 1070.93 L772.62 1071.05 L773.61 1071.16 L774.60 1071.28 L775.60 1071.40 L776.59 1071.51 L777.58 1071.63 L778.58 1071.75 L779.57 1071.87 L780.56 1071.98 L781.56 1072.10 L782.55 1072.22 L783.54 1072.34 L784.53 1072.46 L785.53 1072.58 L786.52 1072.70 L787.51 1072.82 L788.51 1072.94 L789.50 1073.06 L790.49 1073.18 L791.48 1073.31 L792.48 1073.43 L793.47 1073.55 L794.46 1073.68 L795.45 1073.80 L796.44 1073.93 L797.44 1074.06 L798.43 1074.18 L799.42 1074.31 L800.41 1074.44 L801.40 1074.57 L802.39 1074.70 L803.39 1074.83 L804.38 1074.96 L805.37 1075.09 L806.36 1075.22 L807.35 1075.36 L808.34 1075.49 L809.33 1075.62 L810.32 1075.76 L811.32 1075.89 L812.31 1076.02 L813.30 1076.16 L814.29 1076.29 L815.28 1076.43 L816.27 1076.56 L817.26 1076.70 L818.25 1076.83 L819.24 1076.97 L820.23 1077.10 L821.22 1077.24 L822.22 1077.37 L823.21 1077.51 L824.20 1077.64 L825.19 1077.77 L826.18 1077.91 L827.17 1078.04 L828.16 1078.17 L829.15 1078.31 L830.14 1078.44 L831.14 1078.57 L832.13 1078.70 L833.12 1078.83 L834.11 1078.96 L835.10 1079.09 L836.09 1079.22 L837.09 1079.34 L838.08 1079.47 L839.07 1079.60 L840.06 1079.72 L841.05 1079.84 L842.05 1079.97 L843.04 1080.09 L844.03 1080.21 L845.02 1080.33 L846.02 1080.45 L847.01 1080.56 L848.00 1080.68 L849.00 1080.79 L849.99 1080.91 L850.98 1081.02 L851.98 1081.14 L852.97 1081.25 L853.96 1081.36 L854.96 1081.47 L855.95 1081.58 L856.95 1081.69 L857.94 1081.80 L858.93 1081.91 L859.93 1082.02 L860.92 1082.13 L861.92 1082.24 L862.91 1082.35 L863.90 1082.46 L864.90 1082.57 L865.89 1082.68 L866.89 1082.79 L867.88 1082.90 L868.87 1083.01 L869.87 1083.13 L870.86 1083.24 L871.85 1083.36 L872.85 1083.47 L873.84 1083.59 L874.83 1083.71 L875.83 1083.82 L876.82 1083.94 L877.81 1084.07 L878.80 1084.19 L879.80 1084.31 L880.79 1084.44 L881.78 1084.57 L882.77 1084.70 L883.76 1084.83 L884.75 1084.97 L885.74 1085.10 L886.73 1085.24 L887.72 1085.39 L888.71 1085.53 L889.70 1085.68 L890.69 1085.83 L891.68 1085.99 L892.66 1086.14 L893.65 1086.30 L894.64 1086.46 L895.63 1086.61 L896.61 1086.77 L897.60 1086.93 L898.59 1087.08 L899.58 1087.23 L900.57 1087.38 L901.56 1087.53 L902.55 1087.67 L903.54 1087.82 L904.53 1087.96 L905.52 1088.09 L906.51 1088.23 L907.50 1088.37 L908.49 1088.50 L909.48 1088.64 L910.47 1088.77 L911.46 1088.91 L912.45 1089.05 L913.44 1089.20 L914.43 1089.35 L915.41 1089.50 L916.40 1089.66 L917.39 1089.82 L918.37 1089.99 L919.36 1090.16 L920.34 1090.35 L921.32 1090.54 L922.30 1090.73 L923.28 1090.93 L924.26 1091.14 L925.24 1091.35 L926.21 1091.56 L927.19 1091.77 L928.17 1091.98 L929.14 1092.19 L930.12 1092.40 L931.10 1092.60 L932.08 1092.80 L933.06 1092.99 L934.04 1093.18 L935.03 1093.36 L936.01 1093.54 L936.99 1093.72 L937.98 1093.89 L938.96 1094.05 L939.95 1094.22 L940.94 1094.37 L941.93 1094.53 L942.91 1094.68 L943.90 1094.84 L944.89 1094.98 L945.88 1095.13 L946.87 1095.28 L947.86 1095.42 L948.85 1095.56 L949.84 1095.71 L950.83 1095.85 L951.82 1095.99 L952.81 1096.13 L953.80 1096.27 L954.79 1096.41 L955.78 1096.54 L956.77 1096.68 L957.76 1096.82 L958.75 1096.96 L959.74 1097.10 L960.73 1097.24 L961.72 1097.38 L962.71 1097.53 L963.70 1097.67 L964.69 1097.81 L965.68 1097.96 L966.67 1098.10 L967.66 1098.24 L968.65 1098.39 L969.64 1098.53 L970.63 1098.68 L971.62 1098.82 L972.61 1098.97 L973.59 1099.11 L974.58 1099.26 L975.57 1099.40 L976.56 1099.55 L977.55 1099.69 L978.54 1099.84 L979.53 1099.98 L980.52 1100.13 L981.51 1100.27 L982.50 1100.42 L983.49 1100.56 L984.48 1100.71 L985.47 1100.86 L986.46 1101.00 L987.45 1101.15 L988.43 1101.30 L989.42 1101.45 L990.41 1101.60 L991.40 1101.75 L992.39 1101.90 L993.38 1102.06 L994.37 1102.21 L995.35 1102.36 L996.34 1102.52 L997.33 1102.68 L998.32 1102.83 L999.30 1102.99 L1000.29 1103.15 L1001.28 1103.31 L1002.27 1103.47 L1003.25 1103.63 L1004.24 1103.79 L1005.23 1103.95 L1006.21 1104.12 L1007.20 1104.28 L1008.19 1104.44 L1009.17 1104.61 L1010.16 1104.77 L1011.14 1104.94 L1012.13 1105.11 L1013.12 1105.28 L1014.10 1105.45 L1015.09 1105.62 L1016.07 1105.79 L1017.06 1105.96 L1018.04 1106.14 L1019.02 1106.32 L1020.01 1106.49 L1020.99 1106.68 L1021.98 1106.86 L1022.96 1107.04 L1023.94 1107.23 L1024.92 1107.42 L1025.90 1107.61 L1026.89 1107.80 L1027.87 1107.99 L1028.85 1108.19 L1029.83 1108.39 L1030.81 1108.59 L1031.78 1108.80 L1032.76 1109.01 L1033.74 1109.22 L1034.72 1109.43 L1035.69 1109.65 L1036.67 1109.87 L1037.64 1110.09 L1038.62 1110.31 L1039.59 1110.54 L1040.57 1110.77 L1041.54 1111.00 L1042.51 1111.23 L1043.48 1111.47 L1044.45 1111.70 L1045.42 1111.94 L1046.39 1112.19 L1047.36 1112.43 L1048.33 1112.68 L1049.30 1112.93 L1050.27 1113.18 L1051.24 1113.43 L1052.20 1113.68 L1053.17 1113.94 L1054.14 1114.20 L1055.10 1114.46 L1056.07 1114.72 L1057.03 1114.98 L1058.00 1115.24 L1058.96 1115.51 L1059.93 1115.78 L1060.89 1116.05 L1061.85 1116.32 L1062.81 1116.59 L1063.77 1116.86 L1064.74 1117.14 L1065.70 1117.42 L1066.65 1117.70 L1067.61 1117.99 L1068.57 1118.27 L1069.53 1118.56 L1070.48 1118.85 L1071.44 1119.15 L1072.40 1119.44 L1073.35 1119.74 L1074.30 1120.04 L1075.26 1120.35 L1076.21 1120.65 L1077.16 1120.96 L1078.11 1121.27 L1079.06 1121.58 L1080.01 1121.89 L1080.96 1122.20 L1081.91 1122.51 L1082.86 1122.83 L1083.81 1123.14 L1084.76 1123.46 L1085.71 1123.78 L1086.66 1124.09 L1087.60 1124.41 L1088.55 1124.73 L1089.50 1125.05 L1090.45 1125.37 L1091.40 1125.69 L1092.34 1126.00 L1093.29 1126.32 L1094.24 1126.64 L1095.19 1126.96 L1096.13 1127.28 L1097.08 1127.60 L1098.03 1127.92 L1098.98 1128.24 L1099.92 1128.56 L1100.87 1128.88 L1101.82 1129.20 L1102.77 1129.52 L1103.71 1129.85 L1104.66 1130.17 L1105.61 1130.49 L1106.55 1130.81 L1107.50 1131.13 L1108.45 1131.45 L1109.39 1131.77 L1110.34 1132.09 L1111.29 1132.41 L1112.24 1132.73 L1113.19 1133.05 L1114.13 1133.36 L1115.08 1133.68 L1116.03 1134.00 L1116.98 1134.31 L1117.93 1134.63 L1118.88 1134.95 L1119.83 1135.26 L1120.77 1135.58 L1121.72 1135.91 L1122.67 1136.23 L1123.61 1136.56 L1124.56 1136.88 L1125.50 1137.22 L1126.44 1137.55 L1127.38 1137.89 L1128.32 1138.24 L1129.26 1138.58 L1130.19 1138.94 L1131.12 1139.30 L1132.06 1139.66 L1132.99 1140.02 L1133.91 1140.39 L1134.84 1140.77 L1135.77 1141.15 L1136.69 1141.53 L1137.61 1141.92 L1138.53 1142.30 L1139.46 1142.69 L1140.37 1143.09 L1141.29 1143.48 L1142.21 1143.88 L1143.13 1144.28 L1144.05 1144.67 L1144.96 1145.07 L1145.88 1145.48 L1146.79 1145.88 L1147.71 1146.28 L1148.62 1146.69 L1149.54 1147.09 L1150.45 1147.50 L1151.36 1147.91 L1152.27 1148.32 L1153.19 1148.73 L1154.10 1149.14 L1155.01 1149.56 L1155.92 1149.97 L1156.83 1150.38 L1157.74 1150.80 L1158.65 1151.22 L1159.56 1151.63 L1160.47 1152.05 L1161.37 1152.47 L1162.28 1152.88 L1163.19 1153.30 L1164.10 1153.72 L1165.01 1154.13 L1165.92 1154.55 L1166.83 1154.97 L1167.74 1155.38 L1168.65 1155.80 L1169.56 1156.21 L1170.47 1156.63 L1171.38 1157.04 L1172.29 1157.45 L1173.20 1157.86 L1174.11 1158.27 L1175.03 1158.68 L1175.94 1159.09 L1176.85 1159.50 L1177.77 1159.90 L1178.68 1160.30 L1179.60 1160.71 L1180.51 1161.11 L1181.43 1161.51 L1182.35 1161.90 L1183.27 1162.30 L1184.18 1162.70 L1185.10 1163.09 L1186.02 1163.49 L1186.94 1163.88 L1187.86 1164.27 L1188.78 1164.66 L1189.70 1165.05 L1190.62 1165.44 L1191.54 1165.83 L1192.47 1166.22 L1193.39 1166.61 L1194.31 1167.00 L1195.23 1167.38 L1196.15 1167.77 L1197.08 1168.16 L1198.00 1168.54 L1198.92 1168.93 L1199.84 1169.31 L1200.77 1169.70 L1201.69 1170.09 L1202.61 1170.47 L1203.53 1170.86 L1204.46 1171.24 L1205.38 1171.63 L1206.30 1172.01 L1207.22 1172.40 L1208.15 1172.79 L1209.07 1173.17 L1209.99 1173.56 L1210.91 1173.95 L1211.83 1174.33 L1212.76 1174.72 L1213.68 1175.11 L1214.60 1175.50 L1215.52 1175.89 L1216.44 1176.28 L1217.36 1176.67 L1218.28 1177.05 L1219.21 1177.44 L1220.13 1177.83 L1221.05 1178.22 L1221.97 1178.61 L1222.89 1179.00 L1223.81 1179.39 L1224.73 1179.78 L1225.65 1180.17 L1226.57 1180.56 L1227.49 1180.95 L1228.42 1181.34 L1229.34 1181.73 L1230.26 1182.12 L1231.18 1182.51 L1232.10 1182.90 L1233.02 1183.29 L1233.94 1183.68 L1234.86 1184.07 L1235.78 1184.46 L1236.70 1184.85 L1237.62 1185.24 L1238.54 1185.63 L1239.46 1186.02 L1240.38 1186.41 L1241.30 1186.80 L1242.23 1187.20 L1243.15 1187.59 L1244.07 1187.98 L1244.99 1188.37 L1245.91 1188.76 L1246.83 1189.15 L1247.75 1189.54 L1248.67 1189.94 L1249.59 1190.33 L1250.51 1190.72 L1251.43 1191.11 L1252.35 1191.50 L1253.27 1191.89 L1254.19 1192.28 L1255.11 1192.67 L1256.03 1193.07 L1256.95 1193.46 L1257.87 1193.85 L1258.79 1194.24 L1259.71 1194.63 L1260.63 1195.02 L1261.55 1195.41 L1262.47 1195.80 L1263.39 1196.19 L1264.31 1196.58 L1265.23 1196.97 L1266.15 1197.37 L1267.07 1197.76 L1267.99 1198.15 L1268.91 1198.55 L1269.83 1198.94 L1270.75 1199.33 L1271.67 1199.73 L1272.59 1200.12 L1273.51 1200.52 L1274.42 1200.92 L1275.34 1201.31 L1276.26 1201.71 L1277.17 1202.11 L1278.09 1202.51 L1279.01 1202.92 L1279.92 1203.32 L1280.84 1203.72 L1281.75 1204.13 L1282.66 1204.54 L1283.57 1204.95 L1284.49 1205.36 L1285.40 1205.77 L1286.30 1206.19 L1287.21 1206.61 L1288.12 1207.03 L1289.03 1207.45 L1289.93 1207.88 L1290.83 1208.31 L1291.74 1208.74 L1292.64 1209.17 L1293.54 1209.60 L1294.44 1210.04 L1295.34 1210.47 L1296.24 1210.91 L1297.14 1211.35 L1298.04 1211.79 L1298.94 1212.22 L1299.84 1212.66 L1300.73 1213.10 L1301.63 1213.54 L1302.53 1213.97 L1303.43 1214.41 L1304.34 1214.84 L1305.24 1215.27 L1306.14 1215.70 L1307.04 1216.13 L1307.95 1216.56 L1308.85 1216.98 L1309.76 1217.40 L1310.67 1217.82 L1311.58 1218.23 L1312.49 1218.64 L1313.41 1219.04 L1314.32 1219.44 L1315.24 1219.84 L1316.16 1220.23 L1317.08 1220.62 L1318.00 1221.01 L1318.93 1221.39 L1319.86 1221.76 L1320.78 1222.13 L1321.71 1222.50 L1322.64 1222.86 L1323.58 1223.23 L1324.51 1223.58 L1325.45 1223.94 L1326.38 1224.29 L1327.32 1224.64 L1328.26 1224.99 L1329.20 1225.33 L1330.14 1225.67 L1331.08 1226.01 L1332.02 1226.35 L1332.96 1226.68 L1333.90 1227.01 L1334.85 1227.34 L1335.79 1227.66 L1336.74 1227.98 L1337.69 1228.30 L1338.63 1228.62 L1339.58 1228.93 L1340.53 1229.24 L1341.48 1229.55 L1342.42 1229.85 L1343.37 1230.15 L1344.31 1230.45 L1345.25 1230.74 L1346.18 1231.03 L1347.11 1231.31 L1348.04 1231.59 L1348.96 1231.87 L1349.88 1232.15 L1350.80 1232.42" fill="none" stroke="#8a0f16" stroke-width="3.4" stroke-linecap="round" stroke-linejoin="round"/>
<path d="M351.80 1044.50 L352.30 1044.50 L353.30 1044.50 L354.30 1044.50 L355.30 1044.50 L356.30 1044.50 L357.30 1044.50 L358.30 1044.50 L359.30 1044.50 L360.30 1044.50 L361.30 1044.51 L362.30 1044.51 L363.30 1044.51 L364.30 1044.51 L365.30 1044.51 L366.30 1044.51 L367.30 1044.51 L368.30 1044.51 L369.30 1044.51 L370.30 1044.51 L371.30 1044.51 L372.30 1044.51 L373.30 1044.51 L374.30 1044.51 L375.30 1044.51 L376.30 1044.52 L377.30 1044.52 L378.30 1044.52 L379.30 1044.52 L380.30 1044.52 L381.30 1044.52 L382.30 1044.52 L383.30 1044.52 L384.30 1044.52 L385.30 1044.52 L386.30 1044.52 L387.30 1044.53 L388.00 1044.53 M405.00 1044.55 L405.30 1044.55 L406.30 1044.55 L407.30 1044.55 L408.30 1044.55 L409.30 1044.56 L410.30 1044.56 L411.30 1044.56 L412.30 1044.56 L413.30 1044.56 L414.30 1044.56 L415.30 1044.57 L416.30 1044.57 L417.30 1044.57 L418.30 1044.57 L419.30 1044.57 L420.30 1044.58 L421.30 1044.58 L422.30 1044.58 L423.30 1044.58 L424.30 1044.58 L425.30 1044.59 L426.30 1044.59 L427.30 1044.59 L428.30 1044.59 L429.30 1044.59 L430.30 1044.60 L431.30 1044.60 L432.30 1044.60 L433.30 1044.60 L434.30 1044.61 L435.30 1044.61 L436.30 1044.61 L437.30 1044.61 L438.30 1044.62 L439.30 1044.62 L440.30 1044.62 L441.20 1044.62 M458.20 1044.67 L458.30 1044.67 L459.30 1044.68 L460.30 1044.68 L461.30 1044.68 L462.30 1044.69 L463.30 1044.69 L464.30 1044.70 L465.30 1044.70 L466.30 1044.71 L467.30 1044.72 L468.30 1044.72 L469.30 1044.73 L470.30 1044.74 L471.30 1044.75 L472.30 1044.76 L473.30 1044.77 L474.30 1044.79 L475.30 1044.80 L476.30 1044.82 L477.30 1044.83 L478.30 1044.85 L479.30 1044.87 L480.30 1044.89 L481.30 1044.91 L482.30 1044.93 L483.30 1044.95 L484.30 1044.97 L485.30 1045.00 L486.30 1045.02 L487.30 1045.04 L488.30 1045.07 L489.30 1045.09 L490.30 1045.12 L491.30 1045.15 L492.29 1045.18 L493.29 1045.20 L494.29 1045.23 L494.40 1045.23 M511.40 1045.74 L512.29 1045.77 L513.29 1045.80 L514.28 1045.83 L515.28 1045.86 L516.28 1045.90 L517.28 1045.93 L518.28 1045.96 L519.28 1046.00 L520.28 1046.03 L521.28 1046.06 L522.28 1046.10 L523.28 1046.14 L524.28 1046.17 L525.28 1046.21 L526.28 1046.25 L527.28 1046.29 L528.28 1046.33 L529.27 1046.38 L530.27 1046.42 L531.27 1046.47 L532.27 1046.51 L533.27 1046.56 L534.27 1046.61 L535.27 1046.66 L536.27 1046.71 L537.26 1046.77 L538.26 1046.83 L539.26 1046.89 L540.26 1046.95 L541.26 1047.01 L542.25 1047.08 L543.25 1047.16 L544.25 1047.24 L545.24 1047.32 L546.24 1047.41 L547.23 1047.50 L547.60 1047.54 M564.60 1050.00 L565.04 1050.07 L566.03 1050.24 L567.01 1050.42 L567.99 1050.59 L568.98 1050.77 L569.96 1050.96 L570.94 1051.14 L571.93 1051.33 L572.91 1051.52 L573.89 1051.71 L574.87 1051.90 L575.85 1052.10 L576.83 1052.29 L577.81 1052.49 L578.79 1052.69 L579.77 1052.89 L580.75 1053.09 L581.73 1053.30 L582.71 1053.50 L583.69 1053.70 L584.67 1053.90 L585.65 1054.11 L586.63 1054.31 L587.61 1054.51 L588.59 1054.71 L589.57 1054.91 L590.55 1055.11 L591.53 1055.31 L592.51 1055.50 L593.49 1055.70 L594.47 1055.89 L595.45 1056.08 L596.43 1056.28 L597.41 1056.46 L598.40 1056.65 L599.38 1056.84 L600.36 1057.02 L600.80 1057.11 M617.80 1060.05 L618.09 1060.10 L619.08 1060.25 L620.07 1060.40 L621.06 1060.55 L622.05 1060.69 L623.04 1060.84 L624.03 1060.98 L625.02 1061.13 L626.01 1061.27 L627.00 1061.41 L627.99 1061.55 L628.98 1061.68 L629.97 1061.82 L630.96 1061.95 L631.95 1062.09 L632.94 1062.22 L633.93 1062.35 L634.93 1062.48 L635.92 1062.61 L636.91 1062.74 L637.90 1062.86 L638.89 1062.99 L639.89 1063.11 L640.88 1063.23 L641.87 1063.36 L642.86 1063.47 L643.86 1063.59 L644.85 1063.71 L645.84 1063.82 L646.84 1063.94 L647.83 1064.05 L648.82 1064.16 L649.82 1064.27 L650.81 1064.37 L651.81 1064.48 L652.80 1064.58 L653.80 1064.68 L654.00 1064.70 M671.00 1066.31 L671.72 1066.38 L672.71 1066.48 L673.71 1066.58 L674.70 1066.68 L675.69 1066.79 L676.69 1066.89 L677.68 1067.00 L678.68 1067.10 L679.67 1067.21 L680.67 1067.32 L681.66 1067.43 L682.65 1067.54 L683.65 1067.64 L684.64 1067.75 L685.64 1067.86 L686.63 1067.97 L687.62 1068.08 L688.62 1068.20 L689.61 1068.31 L690.61 1068.42 L691.60 1068.53 L692.59 1068.64 L693.59 1068.75 L694.58 1068.86 L695.57 1068.97 L696.57 1069.08 L697.56 1069.19 L698.56 1069.30 L699.55 1069.41 L700.54 1069.52 L701.54 1069.63 L702.53 1069.74 L703.53 1069.85 L704.52 1069.96 L705.52 1070.06 L706.51 1070.17 L707.20 1070.24 M724.20 1072.12 L724.40 1072.14 L725.39 1072.27 L726.38 1072.40 L727.38 1072.53 L728.37 1072.66 L729.36 1072.79 L730.35 1072.93 L731.34 1073.07 L732.33 1073.21 L733.32 1073.35 L734.31 1073.49 L735.30 1073.64 L736.29 1073.79 L737.27 1073.94 L738.26 1074.09 L739.25 1074.24 L740.24 1074.39 L741.23 1074.55 L742.22 1074.70 L743.20 1074.86 L744.19 1075.02 L745.18 1075.18 L746.16 1075.34 L747.15 1075.50 L748.14 1075.67 L749.12 1075.83 L750.11 1076.00 L751.10 1076.16 L752.08 1076.33 L753.07 1076.50 L754.05 1076.67 L755.04 1076.84 L756.02 1077.01 L757.01 1077.18 L757.99 1077.35 L758.98 1077.52 L759.96 1077.70 L760.40 1077.77 M777.40 1081.11 L777.63 1081.16 L778.60 1081.38 L779.58 1081.59 L780.55 1081.81 L781.53 1082.04 L782.50 1082.26 L783.48 1082.49 L784.45 1082.72 L785.42 1082.95 L786.39 1083.18 L787.37 1083.42 L788.34 1083.65 L789.31 1083.89 L790.28 1084.13 L791.25 1084.38 L792.22 1084.62 L793.19 1084.87 L794.16 1085.11 L795.13 1085.36 L796.09 1085.61 L797.06 1085.86 L798.03 1086.12 L799.00 1086.37 L799.96 1086.63 L800.93 1086.88 L801.90 1087.14 L802.86 1087.40 L803.83 1087.66 L804.79 1087.92 L805.76 1088.18 L806.72 1088.44 L807.69 1088.71 L808.65 1088.97 L809.62 1089.24 L810.58 1089.51 L811.54 1089.78 L812.50 1090.05 L813.47 1090.32 L813.60 1090.36 M830.60 1095.35 L830.74 1095.39 L831.70 1095.66 L832.66 1095.92 L833.63 1096.19 L834.59 1096.45 L835.56 1096.71 L836.52 1096.97 L837.49 1097.23 L838.46 1097.48 L839.42 1097.74 L840.39 1097.99 L841.36 1098.24 L842.33 1098.49 L843.30 1098.75 L844.26 1099.00 L845.23 1099.25 L846.20 1099.50 L847.17 1099.75 L848.13 1100.01 L849.10 1100.26 L850.07 1100.52 L851.03 1100.78 L852.00 1101.03 L852.96 1101.30 L853.93 1101.56 L854.89 1101.82 L855.86 1102.09 L856.82 1102.36 L857.78 1102.64 L858.74 1102.91 L859.70 1103.20 L860.66 1103.48 L861.62 1103.77 L862.57 1104.06 L863.53 1104.36 L864.48 1104.67 L865.43 1104.98 L866.38 1105.29 L866.80 1105.44 M883.80 1111.57 L884.25 1111.73 L885.19 1112.04 L886.14 1112.35 L887.10 1112.66 L888.05 1112.97 L889.00 1113.28 L889.95 1113.58 L890.90 1113.89 L891.86 1114.19 L892.81 1114.49 L893.76 1114.80 L894.71 1115.11 L895.66 1115.42 L896.61 1115.74 L897.56 1116.06 L898.50 1116.38 L899.45 1116.71 L900.39 1117.05 L901.33 1117.39 L902.27 1117.73 L903.20 1118.08 L904.14 1118.43 L905.07 1118.79 L906.00 1119.15 L906.93 1119.52 L907.86 1119.88 L908.79 1120.25 L909.72 1120.62 L910.65 1120.99 L911.58 1121.36 L912.51 1121.73 L913.44 1122.09 L914.37 1122.45 L915.31 1122.81 L916.24 1123.17 L917.18 1123.52 L918.12 1123.86 L919.06 1124.20 L920.00 1124.54 L920.00 1124.54 M937.00 1130.19 L937.07 1130.22 L938.02 1130.55 L938.96 1130.89 L939.90 1131.23 L940.84 1131.57 L941.77 1131.92 L942.71 1132.27 L943.65 1132.62 L944.58 1132.98 L945.52 1133.33 L946.45 1133.69 L947.38 1134.06 L948.31 1134.42 L949.24 1134.79 L950.17 1135.15 L951.10 1135.52 L952.03 1135.89 L952.96 1136.27 L953.89 1136.64 L954.81 1137.02 L955.74 1137.39 L956.66 1137.77 L957.59 1138.15 L958.51 1138.53 L959.44 1138.91 L960.36 1139.30 L961.29 1139.68 L962.21 1140.06 L963.13 1140.45 L964.06 1140.83 L964.98 1141.22 L965.90 1141.61 L966.82 1141.99 L967.74 1142.38 L968.67 1142.77 L969.59 1143.16 L970.51 1143.54 L971.43 1143.93 L972.35 1144.32 L973.20 1144.68 M990.20 1152.13 L990.67 1152.34 L991.58 1152.76 L992.49 1153.18 L993.40 1153.59 L994.31 1154.01 L995.21 1154.43 L996.12 1154.86 L997.02 1155.28 L997.93 1155.70 L998.84 1156.13 L999.74 1156.56 L1000.64 1156.98 L1001.55 1157.41 L1002.45 1157.84 L1003.35 1158.27 L1004.25 1158.70 L1005.16 1159.14 L1006.06 1159.57 L1006.96 1160.01 L1007.86 1160.44 L1008.76 1160.88 L1009.66 1161.32 L1010.55 1161.76 L1011.45 1162.20 L1012.35 1162.64 L1013.24 1163.08 L1014.14 1163.53 L1015.04 1163.97 L1015.93 1164.42 L1016.83 1164.87 L1017.72 1165.32 L1018.61 1165.77 L1019.50 1166.22 L1020.40 1166.67 L1021.29 1167.12 L1022.18 1167.58 L1023.07 1168.04 L1023.96 1168.49 L1024.84 1168.95 L1025.73 1169.42 L1026.40 1169.77 M1043.40 1179.05 L1044.17 1179.47 L1045.04 1179.95 L1045.92 1180.43 L1046.80 1180.91 L1047.68 1181.39 L1048.55 1181.86 L1049.43 1182.34 L1050.31 1182.82 L1051.19 1183.29 L1052.07 1183.77 L1052.95 1184.24 L1053.83 1184.72 L1054.71 1185.19 L1055.59 1185.67 L1056.47 1186.14 L1057.35 1186.62 L1058.23 1187.09 L1059.11 1187.57 L1059.99 1188.04 L1060.87 1188.52 L1061.75 1188.99 L1062.63 1189.47 L1063.51 1189.94 L1064.39 1190.42 L1065.27 1190.90 L1066.15 1191.37 L1067.03 1191.85 L1067.90 1192.33 L1068.78 1192.81 L1069.66 1193.29 L1070.54 1193.77 L1071.41 1194.26 L1072.29 1194.74 L1073.16 1195.22 L1074.04 1195.71 L1074.91 1196.20 L1075.78 1196.69 L1076.65 1197.18 L1077.52 1197.67 L1078.39 1198.16 L1079.26 1198.66 L1079.60 1198.85 M1096.60 1208.77 L1097.41 1209.23 L1098.27 1209.72 L1099.15 1210.21 L1100.02 1210.71 L1100.89 1211.19 L1101.76 1211.68 L1102.63 1212.17 L1103.51 1212.65 L1104.39 1213.14 L1105.26 1213.62 L1106.14 1214.10 L1107.02 1214.58 L1107.90 1215.05 L1108.78 1215.52 L1109.66 1215.99 L1110.54 1216.46 L1111.43 1216.92 L1112.32 1217.39 L1113.21 1217.84 L1114.10 1218.30 L1114.99 1218.75 L1115.88 1219.19 L1116.78 1219.64 L1117.68 1220.07 L1118.58 1220.51 L1119.48 1220.94 L1120.39 1221.37 L1121.29 1221.79 L1122.20 1222.21 L1123.10 1222.63 L1124.01 1223.05 L1124.92 1223.47 L1125.83 1223.89 L1126.74 1224.30 L1127.65 1224.72 L1128.56 1225.13 L1129.47 1225.55 L1130.37 1225.97 L1131.28 1226.40 L1132.19 1226.82 L1132.80 1227.11 M1149.80 1235.44 L1150.15 1235.61 L1151.05 1236.04 L1151.95 1236.47 L1152.86 1236.90 L1153.76 1237.32 L1154.67 1237.75 L1155.57 1238.17 L1156.48 1238.59 L1157.39 1239.01 L1158.30 1239.42 L1159.21 1239.84 L1160.12 1240.25 L1161.03 1240.66 L1161.94 1241.07 L1162.86 1241.48 L1163.77 1241.89 L1164.68 1242.30 L1165.59 1242.71 L1166.51 1243.12 L1167.42 1243.53 L1168.33 1243.94 L1169.24 1244.35 L1170.15 1244.77 L1171.06 1245.18 L1171.97 1245.59 L1172.88 1246.01 L1173.79 1246.43 L1174.70 1246.85 L1175.60 1247.27 L1176.51 1247.70 L1177.41 1248.13 L1178.31 1248.56 L1179.21 1249.00 L1180.11 1249.44 L1181.01 1249.88 L1181.90 1250.33 L1182.79 1250.78 L1183.68 1251.23 L1184.57 1251.69 L1185.45 1252.16 L1186.00 1252.46 M1203.00 1262.48 L1203.55 1262.79 L1204.42 1263.27 L1205.30 1263.74 L1206.18 1264.21 L1207.07 1264.68 L1207.96 1265.13 L1208.85 1265.58 L1209.74 1266.03 L1210.64 1266.47 L1211.54 1266.91 L1212.44 1267.35 L1213.34 1267.78 L1214.24 1268.21 L1215.15 1268.63 L1216.06 1269.06 L1216.96 1269.48 L1217.87 1269.89 L1218.78 1270.31 L1219.69 1270.72 L1220.60 1271.13 L1221.51 1271.55 L1222.43 1271.95 L1223.34 1272.36 L1224.25 1272.77 L1225.16 1273.18 L1226.08 1273.59 L1226.99 1274.00 L1227.90 1274.40 L1228.82 1274.81 L1229.73 1275.22 L1230.64 1275.63 L1231.55 1276.04 L1232.46 1276.45 L1233.37 1276.87 L1234.28 1277.28 L1235.19 1277.70 L1236.10 1278.12 L1237.01 1278.54 L1237.91 1278.96 L1238.82 1279.39 L1239.20 1279.57 M1256.20 1287.75 L1256.84 1288.06 L1257.74 1288.50 L1258.64 1288.94 L1259.53 1289.38 L1260.43 1289.82 L1261.33 1290.26 L1262.23 1290.71 L1263.12 1291.15 L1264.02 1291.59 L1264.91 1292.04 L1265.81 1292.48 L1266.71 1292.92 L1267.60 1293.37 L1268.50 1293.81 L1269.39 1294.26 L1270.29 1294.71 L1271.18 1295.15 L1272.08 1295.60 L1272.97 1296.04 L1273.87 1296.49 L1274.76 1296.93 L1275.66 1297.38 L1276.55 1297.83 L1277.45 1298.27 L1278.34 1298.72 L1279.24 1299.16 L1280.14 1299.61 L1281.03 1300.05 L1281.93 1300.49 L1282.82 1300.94 L1283.72 1301.38 L1284.62 1301.82 L1285.52 1302.26 L1286.41 1302.70 L1287.31 1303.14 L1288.21 1303.58 L1289.11 1304.02 L1290.01 1304.45 L1290.91 1304.89 L1291.81 1305.32 L1292.40 1305.60 M1309.40 1313.66 L1309.88 1313.89 L1310.78 1314.34 L1311.67 1314.78 L1312.57 1315.23 L1313.46 1315.68 L1314.35 1316.13 L1315.24 1316.58 L1316.14 1317.04 L1317.02 1317.49 L1317.91 1317.95 L1318.80 1318.41 L1319.69 1318.87 L1320.58 1319.33 L1321.46 1319.80 L1322.35 1320.26 L1323.23 1320.73 L1324.12 1321.20 L1325.00 1321.66 L1325.88 1322.14 L1326.76 1322.61 L1327.64 1323.08 L1328.52 1323.56 L1329.40 1324.03 L1330.28 1324.51 L1331.16 1324.99 L1332.04 1325.47 L1332.91 1325.95 L1333.79 1326.44 L1334.66 1326.92 L1335.53 1327.41 L1336.41 1327.89 L1337.28 1328.38 L1338.15 1328.87 L1339.02 1329.37 L1339.89 1329.86 L1340.75 1330.35 L1341.62 1330.85 L1342.48 1331.34 L1343.34 1331.84 L1344.19 1332.33 L1345.04 1332.83 L1345.60 1333.15" fill="none" stroke="#16167e" stroke-width="3.4" stroke-linecap="round" stroke-linejoin="round"/>
<path d="M339.30 1044.50 L340.30 1044.50 L341.30 1044.50 L342.30 1044.50 L343.30 1044.51 L344.30 1044.51 L345.30 1044.51 L346.30 1044.51 L346.60 1044.51 M357.90 1044.56 L358.30 1044.56 L359.30 1044.57 L360.30 1044.57 L361.30 1044.58 L362.30 1044.59 L363.30 1044.59 L364.30 1044.60 L365.30 1044.61 L366.30 1044.62 L367.30 1044.63 L368.30 1044.63 L369.30 1044.64 L370.30 1044.65 L371.30 1044.66 L372.30 1044.67 L373.30 1044.68 L374.30 1044.69 L375.20 1044.70 M386.50 1044.84 L387.30 1044.85 L388.30 1044.87 L389.30 1044.88 L390.30 1044.89 L391.30 1044.91 L392.30 1044.93 L393.30 1044.94 L394.30 1044.96 L395.30 1044.97 L396.30 1044.99 L397.30 1045.01 L398.30 1045.03 L399.30 1045.05 L400.30 1045.07 L401.30 1045.09 L402.30 1045.11 L403.30 1045.14 L403.80 1045.15 M415.10 1045.66 L415.28 1045.67 L416.28 1045.74 L417.28 1045.80 L418.27 1045.87 L419.27 1045.94 L420.27 1046.01 L421.27 1046.09 L422.26 1046.16 L423.26 1046.24 L424.26 1046.31 L425.26 1046.39 L426.25 1046.47 L427.25 1046.55 L428.25 1046.63 L429.24 1046.71 L430.24 1046.79 L431.24 1046.87 L432.23 1046.95 L432.40 1046.96 M443.70 1047.90 L444.19 1047.95 L445.19 1048.04 L446.18 1048.13 L447.18 1048.22 L448.17 1048.31 L449.17 1048.40 L450.17 1048.50 L451.16 1048.59 L452.16 1048.69 L453.15 1048.78 L454.15 1048.88 L455.14 1048.98 L456.14 1049.08 L457.13 1049.18 L458.13 1049.28 L459.12 1049.39 L460.12 1049.49 L461.00 1049.58 M472.30 1050.81 L473.04 1050.90 L474.03 1051.01 L475.03 1051.12 L476.02 1051.24 L477.01 1051.35 L478.01 1051.47 L479.00 1051.58 L479.99 1051.70 L480.99 1051.82 L481.98 1051.94 L482.97 1052.06 L483.96 1052.18 L484.96 1052.30 L485.95 1052.43 L486.94 1052.55 L487.93 1052.68 L488.92 1052.81 L489.60 1052.90 M500.90 1054.53 L501.79 1054.67 L502.78 1054.83 L503.76 1055.00 L504.75 1055.17 L505.73 1055.34 L506.72 1055.51 L507.70 1055.69 L508.68 1055.87 L509.67 1056.06 L510.65 1056.24 L511.63 1056.44 L512.61 1056.63 L513.59 1056.83 L514.57 1057.03 L515.55 1057.24 L516.53 1057.45 L517.50 1057.66 L518.20 1057.82 M529.50 1060.45 L530.16 1060.60 L531.14 1060.82 L532.11 1061.04 L533.09 1061.26 L534.07 1061.47 L535.04 1061.68 L536.02 1061.89 L537.00 1062.10 L537.98 1062.30 L538.96 1062.50 L539.94 1062.70 L540.92 1062.90 L541.90 1063.10 L542.88 1063.29 L543.86 1063.48 L544.85 1063.66 L545.83 1063.85 L546.80 1064.03 M558.10 1065.91 L558.65 1066.00 L559.64 1066.15 L560.63 1066.30 L561.61 1066.44 L562.60 1066.59 L563.59 1066.74 L564.58 1066.88 L565.57 1067.02 L566.56 1067.17 L567.55 1067.31 L568.54 1067.45 L569.53 1067.59 L570.52 1067.74 L571.51 1067.88 L572.50 1068.02 L573.49 1068.16 L574.48 1068.31 L575.40 1068.44 M586.70 1070.07 L587.35 1070.16 L588.34 1070.29 L589.33 1070.43 L590.32 1070.57 L591.31 1070.70 L592.30 1070.84 L593.29 1070.97 L594.28 1071.11 L595.27 1071.25 L596.26 1071.38 L597.25 1071.52 L598.24 1071.66 L599.23 1071.81 L600.22 1071.95 L601.21 1072.10 L602.20 1072.26 L603.19 1072.42 L604.00 1072.55 M615.30 1074.51 L615.99 1074.63 L616.98 1074.79 L617.97 1074.96 L618.95 1075.12 L619.94 1075.28 L620.93 1075.44 L621.91 1075.60 L622.90 1075.76 L623.89 1075.92 L624.88 1076.08 L625.86 1076.25 L626.85 1076.42 L627.83 1076.59 L628.82 1076.76 L629.80 1076.94 L630.78 1077.13 L631.76 1077.33 L632.60 1077.50 M643.90 1080.14 L644.42 1080.27 L645.39 1080.51 L646.36 1080.75 L647.33 1080.98 L648.30 1081.22 L649.27 1081.45 L650.25 1081.69 L651.22 1081.92 L652.19 1082.15 L653.17 1082.38 L654.14 1082.61 L655.11 1082.83 L656.09 1083.05 L657.06 1083.28 L658.04 1083.50 L659.02 1083.72 L659.99 1083.93 L660.97 1084.15 L661.20 1084.20 M672.50 1086.63 L672.70 1086.68 L673.67 1086.90 L674.65 1087.12 L675.62 1087.34 L676.60 1087.57 L677.57 1087.80 L678.54 1088.03 L679.51 1088.27 L680.48 1088.51 L681.45 1088.75 L682.42 1089.00 L683.39 1089.25 L684.35 1089.51 L685.32 1089.78 L686.28 1090.05 L687.24 1090.33 L688.19 1090.62 L689.15 1090.91 L689.80 1091.12 M701.10 1095.18 L701.38 1095.28 L702.32 1095.61 L703.27 1095.94 L704.21 1096.27 L705.16 1096.59 L706.10 1096.91 L707.05 1097.22 L708.00 1097.53 L708.96 1097.84 L709.91 1098.15 L710.86 1098.46 L711.81 1098.77 L712.76 1099.08 L713.71 1099.40 L714.65 1099.71 L715.60 1100.04 L716.54 1100.37 L717.48 1100.71 L718.40 1101.04 M729.70 1105.74 L730.41 1106.05 L731.32 1106.46 L732.24 1106.86 L733.15 1107.27 L734.07 1107.67 L734.98 1108.08 L735.90 1108.48 L736.81 1108.89 L737.72 1109.30 L738.63 1109.71 L739.54 1110.12 L740.45 1110.54 L741.36 1110.96 L742.26 1111.39 L743.16 1111.82 L744.06 1112.25 L744.96 1112.69 L745.86 1113.14 L746.75 1113.59 L747.00 1113.73 M758.30 1119.96 L759.00 1120.35 L759.88 1120.83 L760.76 1121.30 L761.64 1121.77 L762.53 1122.23 L763.41 1122.70 L764.30 1123.16 L765.19 1123.61 L766.08 1124.07 L766.97 1124.53 L767.86 1124.99 L768.75 1125.44 L769.63 1125.90 L770.52 1126.36 L771.41 1126.83 L772.29 1127.30 L773.17 1127.77 L774.05 1128.25 L774.92 1128.73 L775.60 1129.11 M786.90 1135.74 L787.00 1135.79 L787.87 1136.28 L788.75 1136.76 L789.63 1137.24 L790.51 1137.71 L791.39 1138.17 L792.28 1138.63 L793.17 1139.08 L794.06 1139.53 L794.96 1139.98 L795.85 1140.43 L796.75 1140.87 L797.65 1141.32 L798.54 1141.76 L799.44 1142.20 L800.33 1142.65 L801.23 1143.10 L802.12 1143.55 L803.01 1144.00 L803.90 1144.45 L804.20 1144.61 M815.50 1150.88 L816.13 1151.26 L816.98 1151.79 L817.82 1152.32 L818.67 1152.85 L819.50 1153.40 L820.34 1153.94 L821.18 1154.49 L822.01 1155.05 L822.84 1155.60 L823.67 1156.16 L824.50 1156.72 L825.33 1157.28 L826.16 1157.83 L826.99 1158.38 L827.83 1158.93 L828.67 1159.47 L829.51 1160.01 L830.36 1160.53 L831.21 1161.05 L832.07 1161.56 L832.80 1161.98 M844.10 1167.78 L844.48 1167.98 L845.36 1168.45 L846.24 1168.93 L847.11 1169.42 L847.97 1169.92 L848.83 1170.43 L849.69 1170.95 L850.54 1171.47 L851.39 1172.00 L852.24 1172.53 L853.08 1173.07 L853.92 1173.60 L854.76 1174.14 L855.60 1174.69 L856.44 1175.22 L857.29 1175.76 L858.13 1176.30 L858.98 1176.83 L859.83 1177.35 L860.68 1177.87 L861.40 1178.31 M872.70 1184.40 L872.98 1184.54 L873.86 1185.01 L874.74 1185.48 L875.62 1185.95 L876.50 1186.42 L877.38 1186.91 L878.25 1187.39 L879.12 1187.88 L879.99 1188.37 L880.86 1188.87 L881.73 1189.37 L882.60 1189.87 L883.46 1190.37 L884.33 1190.87 L885.19 1191.37 L886.06 1191.87 L886.93 1192.36 L887.80 1192.86 L888.67 1193.35 L889.54 1193.83 L890.00 1194.09 M901.30 1200.02 L901.92 1200.35 L902.80 1200.83 L903.68 1201.31 L904.56 1201.79 L905.43 1202.28 L906.30 1202.77 L907.16 1203.27 L908.03 1203.77 L908.89 1204.28 L909.75 1204.78 L910.61 1205.29 L911.48 1205.79 L912.34 1206.29 L913.21 1206.78 L914.08 1207.27 L914.96 1207.75 L915.84 1208.21 L916.73 1208.67 L917.62 1209.11 L918.52 1209.54 L918.60 1209.58 M929.90 1214.14 L930.53 1214.41 L931.44 1214.81 L932.35 1215.23 L933.25 1215.66 L934.14 1216.11 L935.02 1216.57 L935.90 1217.05 L936.77 1217.53 L937.63 1218.03 L938.49 1218.54 L939.34 1219.06 L940.20 1219.58 L941.05 1220.11 L941.89 1220.64 L942.74 1221.17 L943.58 1221.70 L944.43 1222.24 L945.28 1222.77 L946.12 1223.29 L946.97 1223.82 L947.20 1223.96 M958.50 1230.41 L959.13 1230.76 L960.01 1231.24 L960.88 1231.71 L961.76 1232.19 L962.64 1232.67 L963.52 1233.15 L964.40 1233.63 L965.28 1234.11 L966.15 1234.59 L967.03 1235.07 L967.91 1235.55 L968.78 1236.03 L969.66 1236.51 L970.53 1236.99 L971.41 1237.48 L972.28 1237.97 L973.15 1238.46 L974.02 1238.96 L974.89 1239.46 L975.75 1239.96 L975.80 1239.99 M987.10 1246.97 L987.65 1247.32 L988.50 1247.84 L989.36 1248.37 L990.21 1248.89 L991.07 1249.40 L991.92 1249.92 L992.78 1250.43 L993.65 1250.93 L994.51 1251.44 L995.38 1251.94 L996.24 1252.43 L997.11 1252.93 L997.98 1253.42 L998.86 1253.91 L999.73 1254.39 L1000.61 1254.87 L1001.49 1255.35 L1002.37 1255.82 L1003.25 1256.29 L1004.14 1256.75 L1004.40 1256.88 M1015.70 1262.36 L1015.83 1262.42 L1016.72 1262.86 L1017.61 1263.31 L1018.50 1263.77 L1019.38 1264.24 L1020.26 1264.72 L1021.13 1265.21 L1022.00 1265.70 L1022.86 1266.20 L1023.72 1266.71 L1024.57 1267.23 L1025.42 1267.76 L1026.27 1268.29 L1027.11 1268.83 L1027.95 1269.38 L1028.78 1269.93 L1029.61 1270.48 L1030.44 1271.05 L1031.26 1271.61 L1032.08 1272.19 L1032.89 1272.76 L1033.00 1272.84 M1044.30 1281.62 L1044.73 1281.96 L1045.52 1282.58 L1046.31 1283.19 L1047.10 1283.80 L1047.89 1284.41 L1048.69 1285.01 L1049.49 1285.60 L1050.30 1286.20 L1051.11 1286.78 L1051.92 1287.37 L1052.73 1287.95 L1053.55 1288.53 L1054.36 1289.11 L1055.18 1289.68 L1056.00 1290.25 L1056.83 1290.82 L1057.65 1291.38 L1058.48 1291.94 L1059.31 1292.50 L1060.14 1293.06 L1060.97 1293.62 L1061.60 1294.03 M1072.90 1301.20 L1073.63 1301.65 L1074.49 1302.17 L1075.34 1302.70 L1076.19 1303.22 L1077.04 1303.74 L1077.89 1304.27 L1078.75 1304.79 L1079.60 1305.31 L1080.45 1305.84 L1081.30 1306.36 L1082.15 1306.89 L1083.00 1307.41 L1083.85 1307.94 L1084.70 1308.47 L1085.54 1309.01 L1086.38 1309.55 L1087.22 1310.09 L1088.06 1310.64 L1088.89 1311.19 L1089.72 1311.75 L1090.20 1312.09 M1101.50 1320.76 L1101.62 1320.85 L1102.41 1321.46 L1103.21 1322.07 L1104.01 1322.66 L1104.81 1323.25 L1105.62 1323.83 L1106.44 1324.41 L1107.26 1324.97 L1108.09 1325.53 L1108.93 1326.08 L1109.76 1326.63 L1110.60 1327.17 L1111.44 1327.71 L1112.28 1328.25 L1113.13 1328.79 L1113.97 1329.33 L1114.81 1329.87 L1115.65 1330.41 L1116.49 1330.95 L1117.32 1331.51 L1118.15 1332.06 L1118.80 1332.50 M1130.10 1341.01 L1130.14 1341.05 L1130.93 1341.66 L1131.73 1342.27 L1132.52 1342.88 L1133.32 1343.49 L1134.11 1344.09 L1134.92 1344.69 L1135.72 1345.28 L1136.52 1345.88 L1137.33 1346.47 L1138.14 1347.06 L1138.95 1347.64 L1139.76 1348.23 L1140.57 1348.81 L1141.39 1349.39 L1142.20 1349.97 L1143.02 1350.54 L1143.84 1351.12 L1144.66 1351.69 L1145.48 1352.26 L1146.30 1352.83 L1147.12 1353.40 L1147.40 1353.59 M1158.70 1361.13 L1158.76 1361.17 L1159.59 1361.73 L1160.42 1362.29 L1161.24 1362.86 L1162.07 1363.43 L1162.88 1364.00 L1163.70 1364.58 L1164.51 1365.16 L1165.32 1365.75 L1166.13 1366.33 L1166.94 1366.93 L1167.74 1367.52 L1168.54 1368.12 L1169.34 1368.72 L1170.14 1369.33 L1170.93 1369.93 L1171.72 1370.54 L1172.51 1371.16 L1173.30 1371.77 L1174.09 1372.39 L1174.87 1373.02 L1175.65 1373.64 L1176.00 1373.93 M1187.30 1383.69 L1187.76 1384.09 L1188.51 1384.74 L1189.27 1385.40 L1190.03 1386.04 L1190.80 1386.69 L1191.56 1387.32 L1192.34 1387.96 L1193.12 1388.59 L1193.90 1389.21 L1194.68 1389.83 L1195.47 1390.45 L1196.26 1391.06 L1197.05 1391.67 L1197.84 1392.28 L1198.64 1392.88 L1199.43 1393.49 L1200.23 1394.09 L1201.03 1394.69 L1201.83 1395.30 L1202.63 1395.90 L1203.42 1396.50 L1204.22 1397.10 L1204.60 1397.39 M1215.90 1406.17 L1216.07 1406.30 L1216.84 1406.93 L1217.62 1407.57 L1218.39 1408.20 L1219.16 1408.84 L1219.92 1409.48 L1220.69 1410.13 L1221.45 1410.78 L1222.21 1411.43 L1222.96 1412.09 L1223.72 1412.74 L1224.47 1413.40 L1225.22 1414.06 L1225.96 1414.73 L1226.71 1415.39 L1227.46 1416.06 L1228.20 1416.73 L1228.94 1417.40 L1229.69 1418.06 L1230.43 1418.73 L1231.17 1419.40 L1231.92 1420.07 L1232.66 1420.74 L1233.20 1421.22 M1244.50 1431.21 L1244.65 1431.34 L1245.40 1432.00 L1246.15 1432.66 L1246.90 1433.31 L1247.66 1433.97 L1248.41 1434.63 L1249.17 1435.29 L1249.92 1435.94 L1250.67 1436.60 L1251.43 1437.25 L1252.18 1437.91 L1252.94 1438.57 L1253.69 1439.22 L1254.45 1439.88 L1255.20 1440.54 L1255.95 1441.19 L1256.71 1441.85 L1257.45 1442.52 L1258.20 1443.18 L1258.95 1443.85 L1259.69 1444.51 L1260.43 1445.19 L1261.17 1445.86 L1261.80 1446.44 M1272.77 1457.56 L1273.12 1457.94 L1273.79 1458.68 L1274.47 1459.41 L1275.14 1460.15 L1275.81 1460.89 L1276.49 1461.63 L1277.16 1462.37 L1277.83 1463.11 L1278.50 1463.85 L1279.18 1464.59 L1279.85 1465.33 L1280.52 1466.07 L1281.19 1466.81 L1281.86 1467.55 L1282.53 1468.30 L1283.21 1469.04 L1283.88 1469.78 L1284.55 1470.52 L1285.22 1471.26 L1285.90 1471.99 L1286.57 1472.73 L1287.25 1473.47 L1287.93 1474.20 L1288.55 1474.86 M1299.62 1486.07 L1299.86 1486.30 L1300.58 1487.00 L1301.29 1487.70 L1302.00 1488.40 L1302.71 1489.11 L1303.42 1489.82 L1304.12 1490.53 L1304.82 1491.24 L1305.51 1491.96 L1306.21 1492.68 L1306.89 1493.41 L1307.58 1494.13 L1308.27 1494.86 L1308.95 1495.59 L1309.63 1496.33 L1310.30 1497.06 L1310.98 1497.80 L1311.65 1498.54 L1312.33 1499.28 L1313.00 1500.02 L1313.67 1500.76 L1314.34 1501.50 L1315.02 1502.24 L1315.69 1502.98 L1316.00 1503.32 M1326.52 1514.62 L1326.59 1514.69 L1327.27 1515.42 L1327.96 1516.15 L1328.64 1516.88 L1329.32 1517.62 L1329.99 1518.35 L1330.67 1519.09 L1331.34 1519.83 L1332.01 1520.57 L1332.68 1521.31 L1333.35 1522.06 L1334.01 1522.81 L1334.67 1523.56 L1335.33 1524.31 L1335.99 1525.06 L1336.65 1525.81 L1337.31 1526.57 L1337.96 1527.32 L1338.61 1528.08 L1339.26 1528.84 L1339.91 1529.60 L1340.56 1530.36 L1341.21 1531.13 L1341.85 1531.89 L1341.88 1531.92" fill="none" stroke="#007a30" stroke-width="3.4" stroke-linecap="round" stroke-linejoin="round"/>
<path d="M341.90 1044.50 L342.30 1044.50 L343.30 1044.51 L344.30 1044.51 L345.30 1044.51 L346.30 1044.51 L347.30 1044.51 L348.30 1044.52 L349.30 1044.52 L350.30 1044.52 L351.30 1044.53 L352.30 1044.53 L353.30 1044.54 L354.30 1044.54 L355.30 1044.55 L356.30 1044.55 L357.30 1044.56 L358.30 1044.56 L359.30 1044.57 L360.30 1044.58 L361.30 1044.58 L362.30 1044.59 L363.30 1044.60 L364.30 1044.60 L365.30 1044.61 L365.80 1044.62 M376.52 1044.72 L376.53 1044.72 M387.25 1044.85 L387.30 1044.86 L388.30 1044.87 L389.30 1044.88 L390.30 1044.90 L391.30 1044.91 L392.30 1044.93 L393.30 1044.94 L394.30 1044.96 L395.30 1044.97 L396.30 1044.99 L397.30 1045.01 L398.30 1045.03 L399.30 1045.04 L400.30 1045.06 L401.30 1045.08 L402.30 1045.11 L403.30 1045.13 L404.30 1045.16 L405.29 1045.18 L406.29 1045.21 L407.29 1045.25 L408.29 1045.28 L409.29 1045.32 L410.29 1045.36 L411.15 1045.40 M421.87 1046.02 L421.88 1046.02 M432.60 1046.88 L433.23 1046.94 L434.23 1047.03 L435.23 1047.12 L436.22 1047.21 L437.22 1047.30 L438.21 1047.40 L439.21 1047.50 L440.20 1047.59 L441.20 1047.69 L442.19 1047.79 L443.19 1047.89 L444.18 1047.99 L445.18 1048.10 L446.17 1048.20 L447.16 1048.31 L448.16 1048.43 L449.15 1048.54 L450.14 1048.66 L451.14 1048.78 L452.13 1048.91 L453.12 1049.04 L454.11 1049.17 L455.10 1049.31 L456.09 1049.45 L456.50 1049.51 M467.22 1051.29 L467.23 1051.29 M477.95 1053.34 L478.73 1053.50 L479.71 1053.69 L480.69 1053.89 L481.67 1054.08 L482.65 1054.28 L483.63 1054.48 L484.61 1054.68 L485.59 1054.87 L486.57 1055.07 L487.55 1055.27 L488.53 1055.47 L489.51 1055.68 L490.49 1055.88 L491.47 1056.09 L492.44 1056.30 L493.42 1056.51 L494.40 1056.72 L495.37 1056.94 L496.35 1057.15 L497.33 1057.38 L498.30 1057.60 L499.27 1057.82 L500.25 1058.05 L501.22 1058.28 L501.85 1058.43 M512.57 1060.95 L512.58 1060.95 M523.30 1063.15 L523.68 1063.21 L524.66 1063.39 L525.65 1063.56 L526.64 1063.72 L527.62 1063.88 L528.61 1064.04 L529.60 1064.19 L530.59 1064.35 L531.57 1064.50 L532.56 1064.65 L533.55 1064.80 L534.54 1064.95 L535.53 1065.10 L536.52 1065.25 L537.51 1065.40 L538.49 1065.56 L539.48 1065.72 L540.47 1065.88 L541.45 1066.04 L542.44 1066.21 L543.42 1066.39 L544.41 1066.57 L545.39 1066.76 L546.37 1066.95 L547.20 1067.12 M557.92 1069.66 L557.93 1069.66 M568.65 1072.26 L568.73 1072.28 L569.71 1072.50 L570.68 1072.71 L571.66 1072.93 L572.64 1073.13 L573.62 1073.34 L574.60 1073.55 L575.57 1073.76 L576.55 1073.96 L577.53 1074.17 L578.51 1074.37 L579.49 1074.58 L580.47 1074.79 L581.44 1075.00 L582.42 1075.21 L583.40 1075.42 L584.37 1075.64 L585.35 1075.86 L586.32 1076.09 L587.30 1076.32 L588.27 1076.55 L589.24 1076.79 L590.21 1077.04 L591.17 1077.29 L592.14 1077.54 L592.55 1077.65 M603.27 1080.74 L603.28 1080.75 M614.00 1083.83 L614.24 1083.90 L615.21 1084.16 L616.17 1084.43 L617.14 1084.69 L618.10 1084.95 L619.07 1085.21 L620.03 1085.46 L621.00 1085.72 L621.97 1085.97 L622.94 1086.23 L623.90 1086.48 L624.87 1086.74 L625.84 1087.00 L626.80 1087.25 L627.77 1087.51 L628.73 1087.77 L629.70 1088.04 L630.66 1088.30 L631.62 1088.57 L632.58 1088.85 L633.55 1089.13 L634.50 1089.41 L635.46 1089.69 L636.42 1089.99 L637.37 1090.28 L637.90 1090.45 M648.62 1094.28 L648.63 1094.28 M659.35 1098.71 L659.76 1098.88 L660.68 1099.27 L661.60 1099.66 L662.53 1100.05 L663.45 1100.44 L664.37 1100.83 L665.29 1101.22 L666.21 1101.61 L667.13 1102.00 L668.05 1102.39 L668.97 1102.79 L669.88 1103.19 L670.80 1103.58 L671.72 1103.98 L672.63 1104.38 L673.55 1104.79 L674.46 1105.19 L675.38 1105.60 L676.29 1106.01 L677.20 1106.42 L678.11 1106.84 L679.02 1107.26 L679.92 1107.68 L680.83 1108.11 L681.73 1108.53 L682.63 1108.97 L683.25 1109.27 M693.97 1114.95 L693.98 1114.96 M704.70 1121.45 L705.23 1121.77 L706.09 1122.28 L706.95 1122.79 L707.82 1123.29 L708.68 1123.80 L709.54 1124.30 L710.41 1124.80 L711.28 1125.30 L712.14 1125.79 L713.01 1126.29 L713.88 1126.78 L714.75 1127.28 L715.62 1127.77 L716.49 1128.26 L717.37 1128.75 L718.24 1129.24 L719.11 1129.73 L719.98 1130.22 L720.86 1130.70 L721.73 1131.19 L722.60 1131.67 L723.48 1132.16 L724.36 1132.64 L725.23 1133.12 L726.11 1133.61 L726.98 1134.09 L727.86 1134.57 L728.60 1134.97 M739.32 1141.13 L739.33 1141.13 M750.05 1148.35 L750.75 1148.81 L751.59 1149.35 L752.43 1149.89 L753.28 1150.43 L754.12 1150.96 L754.97 1151.49 L755.82 1152.02 L756.67 1152.55 L757.52 1153.07 L758.38 1153.59 L759.23 1154.11 L760.08 1154.63 L760.94 1155.15 L761.79 1155.67 L762.65 1156.19 L763.50 1156.71 L764.35 1157.23 L765.20 1157.76 L766.06 1158.28 L766.91 1158.81 L767.75 1159.34 L768.60 1159.87 L769.44 1160.41 L770.29 1160.95 L771.12 1161.49 L771.96 1162.04 L772.79 1162.59 L773.63 1163.14 L773.95 1163.36 M784.67 1170.48 L784.68 1170.48 M795.40 1176.62 L795.70 1176.80 L796.56 1177.31 L797.42 1177.83 L798.27 1178.35 L799.13 1178.87 L799.98 1179.40 L800.82 1179.93 L801.67 1180.46 L802.51 1181.00 L803.35 1181.54 L804.20 1182.08 L805.03 1182.62 L805.87 1183.17 L806.71 1183.71 L807.55 1184.26 L808.38 1184.81 L809.22 1185.36 L810.05 1185.91 L810.89 1186.46 L811.72 1187.02 L812.55 1187.57 L813.39 1188.12 L814.22 1188.68 L815.05 1189.23 L815.88 1189.78 L816.72 1190.34 L817.55 1190.89 L818.38 1191.44 L819.22 1192.00 L819.30 1192.05 M830.02 1198.99 L830.03 1199.00 M840.75 1205.35 L841.31 1205.68 L842.17 1206.19 L843.03 1206.70 L843.89 1207.21 L844.75 1207.72 L845.61 1208.23 L846.47 1208.74 L847.33 1209.25 L848.19 1209.77 L849.05 1210.28 L849.90 1210.80 L850.76 1211.31 L851.62 1211.83 L852.47 1212.34 L853.33 1212.86 L854.18 1213.38 L855.04 1213.90 L855.89 1214.42 L856.74 1214.94 L857.60 1215.47 L858.45 1215.99 L859.30 1216.52 L860.14 1217.05 L860.99 1217.58 L861.84 1218.11 L862.68 1218.65 L863.53 1219.18 L864.37 1219.72 L864.65 1219.90 M875.37 1226.88 L875.38 1226.88 M886.10 1233.40 L886.37 1233.56 L887.24 1234.04 L888.12 1234.52 L889.00 1235.00 L889.88 1235.47 L890.77 1235.94 L891.65 1236.40 L892.54 1236.86 L893.43 1237.31 L894.32 1237.77 L895.21 1238.22 L896.10 1238.67 L896.99 1239.13 L897.88 1239.58 L898.77 1240.04 L899.66 1240.50 L900.55 1240.96 L901.43 1241.43 L902.31 1241.91 L903.19 1242.39 L904.06 1242.87 L904.92 1243.37 L905.79 1243.87 L906.64 1244.39 L907.49 1244.91 L908.34 1245.44 L909.18 1245.98 L910.00 1246.53 M920.72 1254.21 L920.73 1254.21 M931.45 1260.97 L931.55 1261.03 L932.40 1261.55 L933.26 1262.07 L934.11 1262.59 L934.97 1263.10 L935.83 1263.62 L936.68 1264.13 L937.54 1264.65 L938.40 1265.16 L939.25 1265.68 L940.11 1266.19 L940.97 1266.71 L941.83 1267.22 L942.68 1267.74 L943.54 1268.26 L944.39 1268.78 L945.25 1269.30 L946.10 1269.82 L946.95 1270.34 L947.80 1270.87 L948.65 1271.39 L949.50 1271.93 L950.34 1272.46 L951.19 1273.00 L952.03 1273.54 L952.87 1274.08 L953.70 1274.63 L954.54 1275.18 L955.35 1275.72 M966.07 1283.42 L966.08 1283.43 M976.80 1291.62 L977.05 1291.81 L977.86 1292.39 L978.67 1292.97 L979.49 1293.55 L980.31 1294.13 L981.13 1294.70 L981.95 1295.26 L982.78 1295.83 L983.60 1296.39 L984.43 1296.95 L985.26 1297.51 L986.09 1298.07 L986.92 1298.63 L987.75 1299.18 L988.58 1299.74 L989.41 1300.30 L990.24 1300.86 L991.06 1301.43 L991.89 1301.99 L992.71 1302.56 L993.53 1303.13 L994.35 1303.71 L995.16 1304.29 L995.97 1304.87 L996.78 1305.46 L997.58 1306.05 L998.38 1306.65 L999.18 1307.26 L999.97 1307.87 L1000.70 1308.45 M1011.42 1317.26 L1011.43 1317.27 M1022.15 1325.50 L1022.68 1325.89 L1023.48 1326.48 L1024.29 1327.07 L1025.10 1327.66 L1025.91 1328.24 L1026.72 1328.82 L1027.53 1329.41 L1028.35 1329.99 L1029.16 1330.57 L1029.98 1331.15 L1030.79 1331.72 L1031.61 1332.30 L1032.43 1332.88 L1033.24 1333.46 L1034.06 1334.04 L1034.87 1334.62 L1035.69 1335.20 L1036.50 1335.78 L1037.31 1336.36 L1038.12 1336.95 L1038.93 1337.54 L1039.73 1338.13 L1040.54 1338.73 L1041.34 1339.32 L1042.14 1339.93 L1042.93 1340.53 L1043.72 1341.14 L1044.51 1341.76 L1045.30 1342.37 L1046.05 1342.97 M1056.77 1352.10 L1056.78 1352.11 M1067.50 1361.22 L1068.18 1361.74 L1068.98 1362.35 L1069.78 1362.94 L1070.59 1363.53 L1071.40 1364.12 L1072.21 1364.70 L1073.02 1365.29 L1073.83 1365.87 L1074.64 1366.46 L1075.44 1367.05 L1076.24 1367.65 L1077.04 1368.25 L1077.82 1368.87 L1078.60 1369.49 L1079.38 1370.12 L1080.14 1370.76 L1080.90 1371.41 L1081.64 1372.07 L1082.38 1372.74 L1083.12 1373.42 L1083.85 1374.10 L1084.57 1374.79 L1085.29 1375.48 L1086.01 1376.18 L1086.73 1376.87 L1087.45 1377.57 L1088.17 1378.26 L1088.89 1378.95 L1089.62 1379.63 L1090.35 1380.32 L1091.08 1381.00 L1091.40 1381.29 M1102.12 1390.12 L1102.13 1390.12 M1112.85 1397.47 L1113.37 1397.84 L1114.18 1398.42 L1114.99 1399.01 L1115.79 1399.61 L1116.59 1400.21 L1117.38 1400.82 L1118.17 1401.44 L1118.95 1402.06 L1119.73 1402.69 L1120.50 1403.32 L1121.27 1403.95 L1122.04 1404.59 L1122.81 1405.24 L1123.57 1405.88 L1124.33 1406.53 L1125.08 1407.19 L1125.84 1407.85 L1126.59 1408.51 L1127.34 1409.17 L1128.08 1409.83 L1128.83 1410.50 L1129.57 1411.17 L1130.31 1411.85 L1131.05 1412.52 L1131.78 1413.20 L1132.51 1413.88 L1133.24 1414.56 L1133.97 1415.25 L1134.70 1415.93 L1135.42 1416.62 L1136.14 1417.32 L1136.75 1417.91 M1147.46 1428.26 L1147.47 1428.27 M1158.19 1437.02 L1158.47 1437.26 L1159.22 1437.92 L1159.97 1438.58 L1160.71 1439.25 L1161.44 1439.93 L1162.17 1440.61 L1162.90 1441.30 L1163.62 1441.99 L1164.33 1442.69 L1165.05 1443.39 L1165.76 1444.09 L1166.46 1444.80 L1167.17 1445.51 L1167.87 1446.22 L1168.57 1446.94 L1169.27 1447.65 L1169.96 1448.37 L1170.66 1449.09 L1171.35 1449.81 L1172.04 1450.53 L1172.74 1451.25 L1173.43 1451.97 L1174.12 1452.70 L1174.81 1453.42 L1175.50 1454.14 L1176.20 1454.86 L1176.89 1455.58 L1177.59 1456.30 L1178.29 1457.01 L1178.98 1457.73 L1179.68 1458.44 L1180.38 1459.16 L1181.09 1459.87 L1181.64 1460.43 M1192.35 1471.09 L1192.36 1471.10 M1202.81 1481.82 L1202.89 1481.90 L1203.58 1482.62 L1204.27 1483.35 L1204.97 1484.07 L1205.66 1484.79 L1206.35 1485.51 L1207.04 1486.24 L1207.73 1486.96 L1208.42 1487.68 L1209.11 1488.41 L1209.80 1489.13 L1210.49 1489.86 L1211.18 1490.58 L1211.86 1491.31 L1212.55 1492.03 L1213.24 1492.76 L1213.92 1493.49 L1214.61 1494.22 L1215.29 1494.95 L1215.97 1495.68 L1216.65 1496.41 L1217.33 1497.14 L1218.01 1497.88 L1218.69 1498.62 L1219.37 1499.35 L1220.04 1500.09 L1220.71 1500.83 L1221.38 1501.57 L1222.05 1502.32 L1222.71 1503.07 L1223.38 1503.81 L1224.04 1504.57 L1224.69 1505.32 L1225.04 1505.72 M1234.32 1516.44 L1234.33 1516.45 M1244.78 1527.16 L1244.98 1527.37 L1245.65 1528.11 L1246.31 1528.85 L1246.98 1529.60 L1247.63 1530.36 L1248.28 1531.12 L1248.93 1531.88 L1249.58 1532.64 L1250.22 1533.41 L1250.85 1534.18 L1251.49 1534.95 L1252.12 1535.73 L1252.75 1536.51 L1253.37 1537.29 L1253.99 1538.07 L1254.62 1538.85 L1255.23 1539.64 L1255.85 1540.42 L1256.47 1541.21 L1257.08 1542.00 L1257.70 1542.79 L1258.31 1543.58 L1258.92 1544.37 L1259.53 1545.17 L1260.14 1545.96 L1260.74 1546.75 L1261.35 1547.55 L1261.96 1548.34 L1262.56 1549.14 L1263.17 1549.93 L1263.77 1550.73 L1264.02 1551.06 M1272.00 1561.78 L1272.01 1561.79 M1279.72 1572.51 L1279.72 1572.51 L1280.30 1573.33 L1280.88 1574.15 L1281.46 1574.96 L1282.03 1575.78 L1282.61 1576.60 L1283.18 1577.41 L1283.76 1578.23 L1284.33 1579.05 L1284.91 1579.87 L1285.48 1580.69 L1286.06 1581.51 L1286.63 1582.33 L1287.20 1583.15 L1287.77 1583.97 L1288.35 1584.79 L1288.92 1585.61 L1289.49 1586.43 L1290.06 1587.25 L1290.63 1588.07 L1291.21 1588.89 L1291.78 1589.71 L1292.35 1590.53 L1292.92 1591.35 L1293.49 1592.17 L1294.06 1592.99 L1294.63 1593.81 L1295.20 1594.64 L1295.77 1595.46 L1296.35 1596.28 L1296.44 1596.41 M1303.85 1607.13 L1303.86 1607.14 M1311.19 1617.86 L1311.64 1618.53 L1312.20 1619.35 L1312.76 1620.18 L1313.32 1621.01 L1313.88 1621.84 L1314.44 1622.67 L1315.00 1623.50 L1315.56 1624.33 L1316.12 1625.16 L1316.67 1625.99 L1317.23 1626.82 L1317.79 1627.65 L1318.34 1628.48 L1318.89 1629.31 L1319.45 1630.15 L1320.00 1630.98 L1320.56 1631.81 L1321.11 1632.65 L1321.66 1633.48 L1322.21 1634.32 L1322.76 1635.15 L1323.31 1635.99 L1323.86 1636.82 L1324.41 1637.66 L1324.96 1638.49 L1325.50 1639.33 L1326.05 1640.17 L1326.60 1641.01 L1327.09 1641.76 M1333.99 1652.48 L1334.00 1652.49 M1340.77 1663.21 L1341.12 1663.77 L1341.65 1664.62 L1342.18 1665.46 L1342.70 1666.31 L1343.23 1667.16 L1343.76 1668.01 L1344.29 1668.86 L1344.81 1669.71 L1345.34 1670.56 L1345.87 1671.41 L1346.39 1672.26 L1346.91 1673.10 L1347.43 1673.95 L1347.95 1674.80 L1348.47 1675.64 L1348.99 1676.48 L1349.51 1677.32 L1350.03 1678.17 L1350.54 1679.01" fill="none" stroke="#7c7c24" stroke-width="3.4" stroke-linecap="round" stroke-linejoin="round"/>
<rect x="339.30" y="1004.60" width="1011.50" height="727.90" fill="none" stroke="#111" stroke-width="3.3" stroke-linejoin="round"/>
<path d="M328.80 1732.50H339.30 M328.80 1634.21H339.30 M328.80 1535.93H339.30 M328.80 1437.64H339.30 M328.80 1339.36H339.30 M328.80 1241.07H339.30 M328.80 1142.79H339.30 M328.80 1044.50H339.30 M339.30 1732.50V1743.00 M465.74 1732.50V1743.00 M592.17 1732.50V1743.00 M718.61 1732.50V1743.00 M845.05 1732.50V1743.00 M971.49 1732.50V1743.00 M1097.92 1732.50V1743.00 M1224.36 1732.50V1743.00 M1350.80 1732.50V1743.00" stroke="#111" stroke-width="3.3" stroke-linecap="round" fill="none"/>
<text x="303.5" y="1750.40" font-size="50" text-anchor="end">65</text>
<text x="303.5" y="1652.11" font-size="50" text-anchor="end">70</text>
<text x="303.5" y="1553.83" font-size="50" text-anchor="end">75</text>
<text x="303.5" y="1455.54" font-size="50" text-anchor="end">80</text>
<text x="303.5" y="1357.26" font-size="50" text-anchor="end">85</text>
<text x="303.5" y="1258.97" font-size="50" text-anchor="end">90</text>
<text x="303.5" y="1160.69" font-size="50" text-anchor="end">95</text>
<text x="303.5" y="1062.40" font-size="50" text-anchor="end">100</text>
<text x="339.30" y="1814.6" font-size="50" text-anchor="middle">0</text>
<text x="465.74" y="1814.6" font-size="50" text-anchor="middle">20</text>
<text x="592.17" y="1814.6" font-size="50" text-anchor="middle">40</text>
<text x="718.61" y="1814.6" font-size="50" text-anchor="middle">60</text>
<text x="845.05" y="1814.6" font-size="50" text-anchor="middle">80</text>
<text x="971.49" y="1814.6" font-size="50" text-anchor="middle">100</text>
<text x="1097.92" y="1814.6" font-size="50" text-anchor="middle">120</text>
<text x="1224.36" y="1814.6" font-size="50" text-anchor="middle">140</text>
<text x="1350.80" y="1814.6" font-size="50" text-anchor="middle">160</text>
<text x="846.4" y="1905.5" font-size="56.6" text-anchor="middle">Time (min)</text>
<text transform="translate(180.6,1369) rotate(-90)" x="0" y="0" font-size="56.6" text-anchor="middle">Weight (%)</text>
<text x="3" y="1074" font-size="100" letter-spacing="1.5">(b)</text>
<path d="M374.80 1523.60H462.70" fill="none" stroke="#8a0f16" stroke-width="3.6" stroke-linecap="round" stroke-linejoin="round"/>
<text x="485.60" y="1530.90" font-size="39.5" fill="#680008">PK/O<tspan font-size="25" dy="12.5">2</tspan><tspan dy="-12.5">-G</tspan></text>
<path d="M374.80 1579.90H462.70" fill="none" stroke="#16167e" stroke-width="3.6" stroke-linecap="round" stroke-linejoin="round" stroke-dasharray="36.2 17"/>
<text x="485.60" y="1592.60" font-size="39.5" fill="#0c0a58">pristine PK</text>
<path d="M374.80 1630.30H462.70" fill="none" stroke="#007a30" stroke-width="3.6" stroke-linecap="round" stroke-linejoin="round" stroke-dasharray="17.3 11.3"/>
<text x="485.60" y="1643.60" font-size="39.5" fill="#006418">PK/G</text>
<path d="M374.80 1686.00H462.70" fill="none" stroke="#7c7c24" stroke-width="3.6" stroke-linecap="round" stroke-linejoin="round" stroke-dasharray="23.9 10.72 0.01 10.72"/>
<text x="485.60" y="1694.40" font-size="39.5" fill="#60600a">PK/N<tspan font-size="25" dy="12.5">2</tspan><tspan dy="-12.5">-G</tspan></text>
</svg></body></html>
